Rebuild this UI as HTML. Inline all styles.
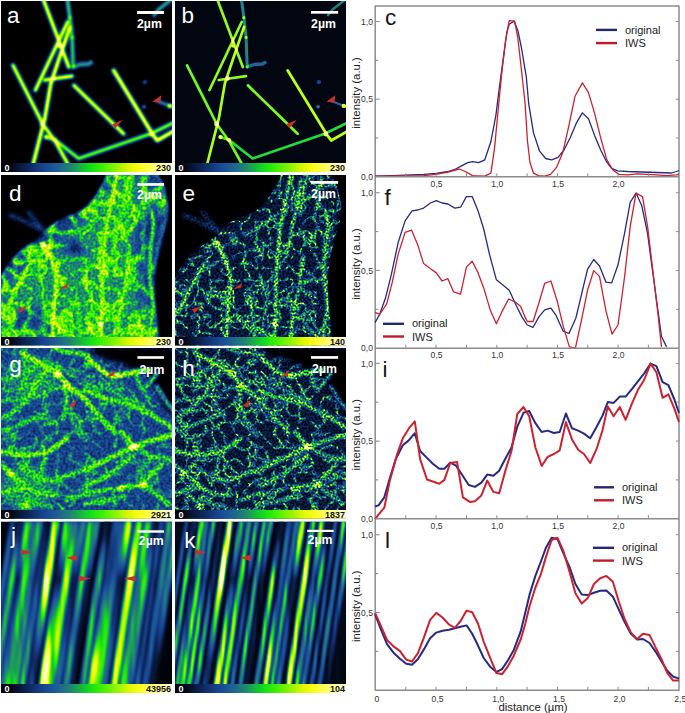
<!DOCTYPE html>
<html><head><meta charset="utf-8"><style>
html,body{margin:0;padding:0;background:#fff;}
svg{display:block;}
text{font-family:"Liberation Sans",sans-serif;}
.tk{font-size:8.6px;fill:#333;}
.at{font-size:11.4px;fill:#222;}
.lg{font-size:11px;fill:#222;}
.cl{font-size:22.5px;fill:#151515;}
.pl{font-size:22.5px;fill:#fff;}
.sb{font-size:12.3px;fill:#fff;font-weight:bold;}
.cb{font-size:9px;font-weight:bold;}
</style></head><body>
<svg width="685" height="713" viewBox="0 0 685 713">
<rect width="685" height="713" fill="#fff"/>
<defs>
<filter id="cmap" x="0" y="0" width="1" height="1" color-interpolation-filters="sRGB">
<feComponentTransfer><feFuncR type="table" tableValues="0.000 0.005 0.014 0.028 0.041 0.053 0.066 0.078 0.090 0.101 0.112 0.119 0.123 0.123 0.108 0.092 0.072 0.089 0.173 0.258 0.373 0.495 0.620 0.751 0.882 0.935 0.987 1.000 1.000 1.000 1.000 1.000 1.000"/><feFuncG type="table" tableValues="0.000 0.015 0.039 0.078 0.114 0.150 0.186 0.228 0.269 0.310 0.350 0.398 0.456 0.521 0.617 0.715 0.817 0.892 0.918 0.944 0.953 0.957 0.962 0.967 0.973 0.985 0.997 1.000 1.000 1.000 1.000 1.000 1.000"/><feFuncB type="table" tableValues="0.000 0.044 0.104 0.187 0.269 0.350 0.428 0.497 0.566 0.588 0.588 0.565 0.513 0.450 0.348 0.249 0.157 0.084 0.046 0.008 0.000 0.000 0.000 0.000 0.000 0.053 0.105 0.222 0.360 0.496 0.625 0.754 0.882"/></feComponentTransfer>
</filter>
<filter id="bl07" x="-5%" y="-5%" width="110%" height="110%" color-interpolation-filters="sRGB"><feGaussianBlur stdDeviation="0.95"/></filter>
<filter id="bl06" x="-5%" y="-5%" width="110%" height="110%" color-interpolation-filters="sRGB"><feGaussianBlur stdDeviation="0.6"/></filter>
<filter id="bl15" x="-5%" y="-5%" width="110%" height="110%" color-interpolation-filters="sRGB"><feGaussianBlur stdDeviation="1.6"/></filter>
<linearGradient id="cbg" x1="0" x2="1" y1="0" y2="0"><stop offset="0" stop-color="#000"/><stop offset="1" stop-color="#fff"/></linearGradient>
</defs>
<clipPath id="clipa"><rect x="1" y="1" width="171" height="171"/></clipPath>
<g clip-path="url(#clipa)"><g filter="url(#cmap)">
<rect x="1" y="1" width="171" height="171" fill="rgb(0,0,0)"/>
<g filter="url(#bl15)">
<polyline points="43.5,0.0 68.8,67.0" fill="none" stroke="rgb(64,64,64)" stroke-width="5.9" stroke-linecap="round" stroke-linejoin="round" style="mix-blend-mode:lighten"/>
<polyline points="67.7,22.0 35.5,90.0" fill="none" stroke="rgb(64,64,64)" stroke-width="5.9" stroke-linecap="round" stroke-linejoin="round" style="mix-blend-mode:lighten"/>
<polyline points="70.0,27.0 58.7,60.0 50.9,83.2 44.8,118.7 33.2,164.0" fill="none" stroke="rgb(67,67,67)" stroke-width="5.9" stroke-linecap="round" stroke-linejoin="round" style="mix-blend-mode:lighten"/>
<polyline points="67.5,0.0 69.9,17.7 72.1,37.4 73.2,67.0" fill="none" stroke="rgb(38,38,38)" stroke-width="6.1" stroke-linecap="round" stroke-linejoin="round" style="mix-blend-mode:lighten"/>
<polyline points="73.2,67.0 80.0,64.5 88.3,64.0 91.0,62.5" fill="none" stroke="rgb(32,32,32)" stroke-width="6.5" stroke-linecap="round" stroke-linejoin="round" style="mix-blend-mode:lighten"/>
<polyline points="44.7,80.0 72.0,76.2" fill="none" stroke="rgb(64,64,64)" stroke-width="5.9" stroke-linecap="round" stroke-linejoin="round" style="mix-blend-mode:lighten"/>
<polyline points="13.0,65.4 43.2,124.8 55.6,141.8 67.9,164.0" fill="none" stroke="rgb(61,61,61)" stroke-width="5.9" stroke-linecap="round" stroke-linejoin="round" style="mix-blend-mode:lighten"/>
<polyline points="46.0,137.0 55.6,140.3 78.7,158.5 150.7,133.8 173.0,123.0" fill="none" stroke="rgb(50,50,50)" stroke-width="5.9" stroke-linecap="round" stroke-linejoin="round" style="mix-blend-mode:lighten"/>
<polyline points="74.0,85.4 123.6,133.8" fill="none" stroke="rgb(63,63,63)" stroke-width="5.9" stroke-linecap="round" stroke-linejoin="round" style="mix-blend-mode:lighten"/>
<polyline points="113.7,70.6 152.3,133.8 157.2,140.4 173.0,131.5" fill="none" stroke="rgb(69,69,69)" stroke-width="6.0" stroke-linecap="round" stroke-linejoin="round" style="mix-blend-mode:lighten"/>
<polyline points="154.0,15.2 158.0,10.0 172.0,-1.0" fill="none" stroke="rgb(38,38,38)" stroke-width="5.5" stroke-linecap="round" stroke-linejoin="round" style="mix-blend-mode:lighten"/>
<polyline points="157.2,101.0 172.0,106.7" fill="none" stroke="rgb(32,32,32)" stroke-width="5.5" stroke-linecap="round" stroke-linejoin="round" style="mix-blend-mode:lighten"/>
</g>
<g filter="url(#bl07)" style="mix-blend-mode:lighten">
<polyline points="43.5,0.0 68.8,67.0" fill="none" stroke="rgb(246,246,246)" stroke-width="2.76" stroke-linecap="round" stroke-linejoin="round" style="mix-blend-mode:screen"/>
<polyline points="67.7,22.0 35.5,90.0" fill="none" stroke="rgb(246,246,246)" stroke-width="2.76" stroke-linecap="round" stroke-linejoin="round" style="mix-blend-mode:screen"/>
<polyline points="70.0,27.0 58.7,60.0 50.9,83.2 44.8,118.7 33.2,164.0" fill="none" stroke="rgb(255,255,255)" stroke-width="2.76" stroke-linecap="round" stroke-linejoin="round" style="mix-blend-mode:screen"/>
<polyline points="67.5,0.0 69.9,17.7 72.1,37.4 73.2,67.0" fill="none" stroke="rgb(147,147,147)" stroke-width="2.9899999999999998" stroke-linecap="round" stroke-linejoin="round" style="mix-blend-mode:screen"/>
<polyline points="73.2,67.0 80.0,64.5 88.3,64.0 91.0,62.5" fill="none" stroke="rgb(123,123,123)" stroke-width="3.4499999999999997" stroke-linecap="round" stroke-linejoin="round" style="mix-blend-mode:screen"/>
<polyline points="44.7,80.0 72.0,76.2" fill="none" stroke="rgb(246,246,246)" stroke-width="2.76" stroke-linecap="round" stroke-linejoin="round" style="mix-blend-mode:screen"/>
<polyline points="13.0,65.4 43.2,124.8 55.6,141.8 67.9,164.0" fill="none" stroke="rgb(235,235,235)" stroke-width="2.76" stroke-linecap="round" stroke-linejoin="round" style="mix-blend-mode:screen"/>
<polyline points="46.0,137.0 55.6,140.3 78.7,158.5 150.7,133.8 173.0,123.0" fill="none" stroke="rgb(194,194,194)" stroke-width="2.76" stroke-linecap="round" stroke-linejoin="round" style="mix-blend-mode:screen"/>
<polyline points="74.0,85.4 123.6,133.8" fill="none" stroke="rgb(240,240,240)" stroke-width="2.76" stroke-linecap="round" stroke-linejoin="round" style="mix-blend-mode:screen"/>
<polyline points="113.7,70.6 152.3,133.8 157.2,140.4 173.0,131.5" fill="none" stroke="rgb(255,255,255)" stroke-width="2.875" stroke-linecap="round" stroke-linejoin="round" style="mix-blend-mode:screen"/>
<polyline points="154.0,15.2 158.0,10.0 172.0,-1.0" fill="none" stroke="rgb(147,147,147)" stroke-width="2.3" stroke-linecap="round" stroke-linejoin="round" style="mix-blend-mode:screen"/>
<polyline points="157.2,101.0 172.0,106.7" fill="none" stroke="rgb(123,123,123)" stroke-width="2.3" stroke-linecap="round" stroke-linejoin="round" style="mix-blend-mode:screen"/>
<circle cx="69.9" cy="17.7" r="1.6" fill="rgb(153,153,153)" style="mix-blend-mode:screen"/>
<circle cx="72.1" cy="37.4" r="1.6" fill="rgb(153,153,153)" style="mix-blend-mode:screen"/>
<circle cx="144.9" cy="82.1" r="2.2" fill="rgb(76,76,76)" style="mix-blend-mode:screen"/>
<circle cx="144.1" cy="106.7" r="1.8" fill="rgb(115,115,115)" style="mix-blend-mode:screen"/>
<circle cx="169.8" cy="105.9" r="2.2" fill="rgb(242,242,242)" style="mix-blend-mode:screen"/>
<circle cx="46.5" cy="137" r="2.2" fill="rgb(217,217,217)" style="mix-blend-mode:screen"/>
<circle cx="55" cy="140" r="2.0" fill="rgb(217,217,217)" style="mix-blend-mode:screen"/>
<circle cx="59" cy="46" r="1.8" fill="rgb(230,230,230)" style="mix-blend-mode:screen"/>
<circle cx="53.5" cy="78.5" r="2.2" fill="rgb(242,242,242)" style="mix-blend-mode:screen"/>
<circle cx="42.5" cy="124" r="2.4" fill="rgb(242,242,242)" style="mix-blend-mode:screen"/>
<circle cx="151.8" cy="134" r="2.4" fill="rgb(242,242,242)" style="mix-blend-mode:screen"/>
</g>
<rect x="1" y="163" width="171" height="10.00" fill="url(#cbg)"/>
</g>
<polygon points="112.1,124.2 122.8,119.8 115.4,128.2" fill="#c8302a"/>
<polygon points="152.3,101.8 161.3,95.2 160.5,102.8" fill="#c8302a"/>
<text x="7.0" y="22.8" class="pl">a</text>
<rect x="137.1" y="11" width="26.8" height="3.0" fill="#fff"/>
<text x="137.0" y="27.7" class="sb">2µm</text>
<text x="4.6" y="171.1" class="cb" fill="#fff">0</text>
<text x="171" y="171.2" class="cb" fill="#111" text-anchor="end">230</text>
</g>
<clipPath id="clipb"><rect x="175" y="1" width="171" height="171"/></clipPath>
<g clip-path="url(#clipb)"><g filter="url(#cmap)">
<rect x="175" y="1" width="171" height="171" fill="rgb(11,11,11)"/>
<g filter="url(#bl06)" style="mix-blend-mode:lighten">
<polyline points="217.5,0.0 242.8,67.0" fill="none" stroke="rgb(178,178,178)" stroke-width="2.76" stroke-linecap="round" stroke-linejoin="round" style="mix-blend-mode:screen"/>
<polyline points="241.7,22.0 209.5,90.0" fill="none" stroke="rgb(178,178,178)" stroke-width="2.76" stroke-linecap="round" stroke-linejoin="round" style="mix-blend-mode:screen"/>
<polyline points="244.0,27.0 232.7,60.0 224.9,83.2 218.8,118.7 207.2,164.0" fill="none" stroke="rgb(186,186,186)" stroke-width="2.76" stroke-linecap="round" stroke-linejoin="round" style="mix-blend-mode:screen"/>
<polyline points="241.5,0.0 243.9,17.7 246.1,37.4 247.2,67.0" fill="none" stroke="rgb(106,106,106)" stroke-width="2.9899999999999998" stroke-linecap="round" stroke-linejoin="round" style="mix-blend-mode:screen"/>
<polyline points="247.2,67.0 254.0,64.5 262.3,64.0 265.0,62.5" fill="none" stroke="rgb(89,89,89)" stroke-width="3.4499999999999997" stroke-linecap="round" stroke-linejoin="round" style="mix-blend-mode:screen"/>
<polyline points="218.7,80.0 246.0,76.2" fill="none" stroke="rgb(178,178,178)" stroke-width="2.76" stroke-linecap="round" stroke-linejoin="round" style="mix-blend-mode:screen"/>
<polyline points="187.0,65.4 217.2,124.8 229.6,141.8 241.9,164.0" fill="none" stroke="rgb(169,169,169)" stroke-width="2.76" stroke-linecap="round" stroke-linejoin="round" style="mix-blend-mode:screen"/>
<polyline points="220.0,137.0 229.6,140.3 252.7,158.5 324.7,133.8 347.0,123.0" fill="none" stroke="rgb(140,140,140)" stroke-width="2.76" stroke-linecap="round" stroke-linejoin="round" style="mix-blend-mode:screen"/>
<polyline points="248.0,85.4 297.6,133.8" fill="none" stroke="rgb(174,174,174)" stroke-width="2.76" stroke-linecap="round" stroke-linejoin="round" style="mix-blend-mode:screen"/>
<polyline points="287.7,70.6 326.3,133.8 331.2,140.4 347.0,131.5" fill="none" stroke="rgb(190,190,190)" stroke-width="2.875" stroke-linecap="round" stroke-linejoin="round" style="mix-blend-mode:screen"/>
<polyline points="328.0,15.2 332.0,10.0 346.0,-1.0" fill="none" stroke="rgb(106,106,106)" stroke-width="2.3" stroke-linecap="round" stroke-linejoin="round" style="mix-blend-mode:screen"/>
<polyline points="331.2,101.0 346.0,106.7" fill="none" stroke="rgb(89,89,89)" stroke-width="2.3" stroke-linecap="round" stroke-linejoin="round" style="mix-blend-mode:screen"/>
<circle cx="243.9" cy="17.7" r="1.6" fill="rgb(130,130,130)" style="mix-blend-mode:screen"/>
<circle cx="246.1" cy="37.4" r="1.6" fill="rgb(130,130,130)" style="mix-blend-mode:screen"/>
<circle cx="318.9" cy="82.1" r="2.2" fill="rgb(65,65,65)" style="mix-blend-mode:screen"/>
<circle cx="318.1" cy="106.7" r="1.8" fill="rgb(98,98,98)" style="mix-blend-mode:screen"/>
<circle cx="343.8" cy="105.9" r="2.2" fill="rgb(206,206,206)" style="mix-blend-mode:screen"/>
<circle cx="220.5" cy="137" r="2.2" fill="rgb(184,184,184)" style="mix-blend-mode:screen"/>
<circle cx="229" cy="140" r="2.0" fill="rgb(184,184,184)" style="mix-blend-mode:screen"/>
<circle cx="233" cy="46" r="1.8" fill="rgb(195,195,195)" style="mix-blend-mode:screen"/>
<circle cx="227.5" cy="78.5" r="2.2" fill="rgb(206,206,206)" style="mix-blend-mode:screen"/>
<circle cx="216.5" cy="124" r="2.4" fill="rgb(206,206,206)" style="mix-blend-mode:screen"/>
<circle cx="325.8" cy="134" r="2.4" fill="rgb(206,206,206)" style="mix-blend-mode:screen"/>
</g>
<rect x="175" y="163" width="171" height="10.00" fill="url(#cbg)"/>
</g>
<polygon points="286.1,124.2 296.8,119.8 289.4,128.2" fill="#c8302a"/>
<polygon points="326.3,101.8 335.3,95.2 334.5,102.8" fill="#c8302a"/>
<text x="181.4" y="22.8" class="pl">b</text>
<rect x="311" y="11" width="27.1" height="2.7" fill="#fff"/>
<text x="311.1" y="27.8" class="sb">2µm</text>
<text x="178.6" y="171.1" class="cb" fill="#fff">0</text>
<text x="345" y="171.2" class="cb" fill="#111" text-anchor="end">230</text>
</g>
<clipPath id="clipd"><rect x="0" y="0" width="171" height="170.5"/></clipPath>
<filter id="texd" x="0" y="0" width="1" height="1" color-interpolation-filters="sRGB">
<feTurbulence type="fractalNoise" baseFrequency="0.4" numOctaves="1" seed="4" result="t"/>
<feColorMatrix in="t" type="matrix" values="1 0 0 0 0 1 0 0 0 0 1 0 0 0 0 0 0 0 0 1" result="g"/>
<feComponentTransfer in="g" result="n"><feFuncR type="linear" slope="2.4" intercept="-0.7"/><feFuncG type="linear" slope="2.4" intercept="-0.7"/><feFuncB type="linear" slope="2.4" intercept="-0.7"/></feComponentTransfer>
<feComposite in="SourceGraphic" in2="n" operator="arithmetic" k1="0.45" k2="0.78" k3="0" k4="0" result="m"/>
<feComponentTransfer in="m"><feFuncR type="table" tableValues="0.000 0.005 0.014 0.028 0.041 0.053 0.066 0.078 0.090 0.101 0.112 0.119 0.123 0.123 0.108 0.092 0.072 0.089 0.173 0.258 0.373 0.495 0.620 0.751 0.882 0.935 0.987 1.000 1.000 1.000 1.000 1.000 1.000"/><feFuncG type="table" tableValues="0.000 0.015 0.039 0.078 0.114 0.150 0.186 0.228 0.269 0.310 0.350 0.398 0.456 0.521 0.617 0.715 0.817 0.892 0.918 0.944 0.953 0.957 0.962 0.967 0.973 0.985 0.997 1.000 1.000 1.000 1.000 1.000 1.000"/><feFuncB type="table" tableValues="0.000 0.044 0.104 0.187 0.269 0.350 0.428 0.497 0.566 0.588 0.588 0.565 0.513 0.450 0.348 0.249 0.157 0.084 0.046 0.008 0.000 0.000 0.000 0.000 0.000 0.053 0.105 0.222 0.360 0.496 0.625 0.754 0.882"/></feComponentTransfer>
</filter>
<filter id="db4" x="-20%" y="-20%" width="140%" height="140%" color-interpolation-filters="sRGB"><feGaussianBlur stdDeviation="4.0"/></filter>
<filter id="db2" x="-20%" y="-20%" width="140%" height="140%" color-interpolation-filters="sRGB"><feGaussianBlur stdDeviation="2.0"/></filter>
<filter id="db1" x="-20%" y="-20%" width="140%" height="140%" color-interpolation-filters="sRGB"><feGaussianBlur stdDeviation="1.2"/></filter>
<filter id="dbn" x="-20%" y="-20%" width="140%" height="140%" color-interpolation-filters="sRGB"><feGaussianBlur stdDeviation="0.8"/></filter>
<g transform="translate(1,175)"><g clip-path="url(#clipd)">
<g filter="url(#texd)">
<rect x="0" y="0" width="171" height="170.5" fill="rgb(0,0,0)"/>
<g filter="url(#db2)">
<polygon points="106.0,-2.0 155.0,-2.0 162.7,12.7 166.5,31.8 165.3,44.5 161.5,57.2 156.4,76.2 154.0,90.0 152.5,110.0 153.0,125.0 154.5,140.0 156.5,155.0 158.0,172.0 -2.0,172.0 -2.0,103.0 0.8,99.9 7.8,89.3 16.5,78.8 25.3,71.8 34.0,66.6 42.8,59.6 48.1,52.6 55.1,47.3 65.6,42.0 76.1,38.5 86.6,31.5 93.6,22.8 98.9,14.0 104.1,5.3" fill="rgb(61,61,61)"/>
<polyline points="8.0,40.0 20.0,44.5 31.0,50.5 48.0,58.0" fill="none" stroke="rgb(76,76,76)" stroke-width="3" stroke-linecap="round" stroke-linejoin="round"/>
<polyline points="27.0,36.5 34.0,45.5 40.0,52.5" fill="none" stroke="rgb(76,76,76)" stroke-width="3" stroke-linecap="round" stroke-linejoin="round"/>
</g>
<g filter="url(#dbn)" style="mix-blend-mode:lighten">
<clipPath id="ncpda"><polygon points="106.0,-2.0 155.0,-2.0 162.7,12.7 166.5,31.8 165.3,44.5 161.5,57.2 156.4,76.2 154.0,90.0 152.5,110.0 153.0,125.0 154.5,140.0 156.5,155.0 158.0,172.0 -2.0,172.0 -2.0,103.0 0.8,99.9 7.8,89.3 16.5,78.8 25.3,71.8 34.0,66.6 42.8,59.6 48.1,52.6 55.1,47.3 65.6,42.0 76.1,38.5 86.6,31.5 93.6,22.8 98.9,14.0 104.1,5.3"/></clipPath>
<filter id="netda" x="0" y="0" width="1" height="1" color-interpolation-filters="sRGB"><feTurbulence type="turbulence" baseFrequency="0.07" numOctaves="2" seed="4"/><feColorMatrix type="matrix" values="1 0 0 0 0 1 0 0 0 0 1 0 0 0 0 0 0 0 0 1"/><feComponentTransfer><feFuncR type="linear" slope="-1.4" intercept="0.8"/><feFuncG type="linear" slope="-1.4" intercept="0.8"/><feFuncB type="linear" slope="-1.4" intercept="0.8"/></feComponentTransfer></filter>
<g clip-path="url(#ncpda)"><rect x="0" y="0" width="171" height="170.5" filter="url(#netda)" style="mix-blend-mode:lighten"/></g>
</g>
<g filter="url(#db4)" style="mix-blend-mode:lighten">
<polygon points="112.0,2.0 140.0,2.0 135.0,40.0 130.0,80.0 140.0,120.0 150.0,140.0 153.0,172.0 62.0,172.0 58.0,150.0 45.0,138.0 25.0,128.0 5.0,134.0 2.0,122.0 5.0,110.0 22.0,96.0 40.0,82.0 62.0,66.0 80.0,50.0 100.0,30.0" fill="rgb(105,105,105)"/>
</g>
<g filter="url(#db4)">
<ellipse cx="73" cy="74" rx="10" ry="9" fill="rgb(31,31,31)"/>
<ellipse cx="36" cy="147" rx="8" ry="8" fill="rgb(38,38,38)"/>
<ellipse cx="141" cy="125" rx="4" ry="12" fill="rgb(46,46,46)"/>
<ellipse cx="140" cy="92" rx="4" ry="7" fill="rgb(51,51,51)"/>
<ellipse cx="152" cy="55" rx="8" ry="30" fill="rgb(41,41,41)"/>
<ellipse cx="145" cy="95" rx="5" ry="10" fill="rgb(46,46,46)"/>
</g>
<g filter="url(#db1)" style="mix-blend-mode:lighten">
<polyline points="41.0,69.0 50.0,82.0 55.5,102.0 54.5,121.0 53.0,135.0 52.0,150.0 51.0,172.0" fill="none" stroke="rgb(199,199,199)" stroke-width="3.5" stroke-linecap="round" stroke-linejoin="round" style="mix-blend-mode:lighten"/>
<polyline points="116.0,-2.0 111.0,25.0 104.5,57.0 102.0,87.0 101.2,104.0 101.0,130.0 100.0,150.0 99.0,172.0" fill="none" stroke="rgb(184,184,184)" stroke-width="3.5" stroke-linecap="round" stroke-linejoin="round" style="mix-blend-mode:lighten"/>
<polyline points="-1.0,138.0 6.7,132.0 11.8,121.5 17.0,111.0 24.7,96.0 29.8,88.0" fill="none" stroke="rgb(178,178,178)" stroke-width="3.5" stroke-linecap="round" stroke-linejoin="round" style="mix-blend-mode:lighten"/>
<polyline points="126.0,4.0 122.0,32.0 116.0,57.0 112.0,80.0" fill="none" stroke="rgb(158,158,158)" stroke-width="3" stroke-linecap="round" stroke-linejoin="round" style="mix-blend-mode:lighten"/>
<polyline points="127.0,83.0 124.6,112.0 120.8,125.0 118.3,140.0 115.7,159.0 114.0,172.0" fill="none" stroke="rgb(168,168,168)" stroke-width="3.5" stroke-linecap="round" stroke-linejoin="round" style="mix-blend-mode:lighten"/>
<polyline points="151.0,36.0 152.6,51.0 150.0,70.0 149.0,87.0 148.8,102.0 151.3,121.0 152.6,134.0 150.0,146.5 148.8,159.0 148.0,172.0" fill="none" stroke="rgb(158,158,158)" stroke-width="3.5" stroke-linecap="round" stroke-linejoin="round" style="mix-blend-mode:lighten"/>
<polyline points="132.0,-2.0 128.0,20.0 125.0,40.0" fill="none" stroke="rgb(153,153,153)" stroke-width="3" stroke-linecap="round" stroke-linejoin="round" style="mix-blend-mode:lighten"/>
<polyline points="146.0,-2.0 143.0,20.0 142.0,35.0" fill="none" stroke="rgb(128,128,128)" stroke-width="3" stroke-linecap="round" stroke-linejoin="round" style="mix-blend-mode:lighten"/>
<polyline points="75.0,120.0 78.0,140.0 80.0,172.0" fill="none" stroke="rgb(148,148,148)" stroke-width="3.5" stroke-linecap="round" stroke-linejoin="round" style="mix-blend-mode:lighten"/>
<polyline points="70.0,60.0 85.0,52.0 95.0,45.0" fill="none" stroke="rgb(140,140,140)" stroke-width="3" stroke-linecap="round" stroke-linejoin="round" style="mix-blend-mode:lighten"/>
<polyline points="20.0,100.0 35.0,92.0 45.0,85.0" fill="none" stroke="rgb(133,133,133)" stroke-width="3" stroke-linecap="round" stroke-linejoin="round" style="mix-blend-mode:lighten"/>
<polyline points="60.0,140.0 70.0,150.0 90.0,160.0 110.0,165.0" fill="none" stroke="rgb(148,148,148)" stroke-width="3.5" stroke-linecap="round" stroke-linejoin="round" style="mix-blend-mode:lighten"/>
<polyline points="85.0,100.0 92.0,120.0 90.0,140.0" fill="none" stroke="rgb(140,140,140)" stroke-width="3" stroke-linecap="round" stroke-linejoin="round" style="mix-blend-mode:lighten"/>
<polyline points="130.0,150.0 140.0,160.0 150.0,165.0" fill="none" stroke="rgb(153,153,153)" stroke-width="3" stroke-linecap="round" stroke-linejoin="round" style="mix-blend-mode:lighten"/>
<ellipse cx="42" cy="69.5" rx="3" ry="3" fill="rgb(242,242,242)" style="mix-blend-mode:lighten"/>
<ellipse cx="99.9" cy="149" rx="2.5" ry="3" fill="rgb(242,242,242)" style="mix-blend-mode:lighten"/>
<polyline points="155.0,-2.0 162.7,12.7 166.0,31.8 165.0,44.5 161.5,57.2 156.4,76.2 154.0,90.0" fill="none" stroke="rgb(102,102,102)" stroke-width="1.8" stroke-linecap="round" stroke-linejoin="round" style="mix-blend-mode:lighten"/>
</g>
</g>
<g filter="url(#cmap)"><rect x="0" y="162.00" width="171" height="9.50" fill="url(#cbg)"/></g>
<polygon points="57.9,114.4 66.9,108.0 66.3,112.5" fill="#c8302a"/>
<polygon points="16.9,134.2 26.5,131.1 19.5,138.2" fill="#c8302a"/>
</g></g>
<text x="9.1" y="201.3" class="pl">d</text>
<rect x="137.4" y="183.1" width="26.7" height="2.7" fill="#fff"/>
<text x="137.1" y="199.4" class="sb">2µm</text>
<text x="4.6" y="344.6" class="cb" fill="#fff">0</text>
<text x="171" y="344.7" class="cb" fill="#111" text-anchor="end">230</text>
<clipPath id="clipe"><rect x="0" y="0" width="171" height="170.5"/></clipPath>
<filter id="texe" x="0" y="0" width="1" height="1" color-interpolation-filters="sRGB">
<feTurbulence type="fractalNoise" baseFrequency="0.5" numOctaves="1" seed="9" result="t"/>
<feColorMatrix in="t" type="matrix" values="1 0 0 0 0 1 0 0 0 0 1 0 0 0 0 0 0 0 0 1" result="g"/>
<feComponentTransfer in="g" result="n"><feFuncR type="linear" slope="3.0" intercept="-1.0"/><feFuncG type="linear" slope="3.0" intercept="-1.0"/><feFuncB type="linear" slope="3.0" intercept="-1.0"/></feComponentTransfer>
<feComposite in="SourceGraphic" in2="n" operator="arithmetic" k1="1.3" k2="0.35" k3="0" k4="0" result="m"/>
<feComponentTransfer in="m"><feFuncR type="table" tableValues="0.000 0.005 0.014 0.028 0.041 0.053 0.066 0.078 0.090 0.101 0.112 0.119 0.123 0.123 0.108 0.092 0.072 0.089 0.173 0.258 0.373 0.495 0.620 0.751 0.882 0.935 0.987 1.000 1.000 1.000 1.000 1.000 1.000"/><feFuncG type="table" tableValues="0.000 0.015 0.039 0.078 0.114 0.150 0.186 0.228 0.269 0.310 0.350 0.398 0.456 0.521 0.617 0.715 0.817 0.892 0.918 0.944 0.953 0.957 0.962 0.967 0.973 0.985 0.997 1.000 1.000 1.000 1.000 1.000 1.000"/><feFuncB type="table" tableValues="0.000 0.044 0.104 0.187 0.269 0.350 0.428 0.497 0.566 0.588 0.588 0.565 0.513 0.450 0.348 0.249 0.157 0.084 0.046 0.008 0.000 0.000 0.000 0.000 0.000 0.053 0.105 0.222 0.360 0.496 0.625 0.754 0.882"/></feComponentTransfer>
</filter>
<filter id="eb4" x="-20%" y="-20%" width="140%" height="140%" color-interpolation-filters="sRGB"><feGaussianBlur stdDeviation="4.0"/></filter>
<filter id="eb2" x="-20%" y="-20%" width="140%" height="140%" color-interpolation-filters="sRGB"><feGaussianBlur stdDeviation="2.0"/></filter>
<filter id="eb1" x="-20%" y="-20%" width="140%" height="140%" color-interpolation-filters="sRGB"><feGaussianBlur stdDeviation="0.8"/></filter>
<filter id="ebn" x="-20%" y="-20%" width="140%" height="140%" color-interpolation-filters="sRGB"><feGaussianBlur stdDeviation="0.6"/></filter>
<g transform="translate(175,175)"><g clip-path="url(#clipe)">
<g filter="url(#texe)">
<rect x="0" y="0" width="171" height="170.5" fill="rgb(0,0,0)"/>
<g filter="url(#eb2)">
<polygon points="106.0,-2.0 155.0,-2.0 162.7,12.7 166.5,31.8 165.3,44.5 161.5,57.2 156.4,76.2 154.0,90.0 152.5,110.0 153.0,125.0 154.5,140.0 156.5,155.0 158.0,172.0 -2.0,172.0 -2.0,103.0 0.8,99.9 7.8,89.3 16.5,78.8 25.3,71.8 34.0,66.6 42.8,59.6 48.1,52.6 55.1,47.3 65.6,42.0 76.1,38.5 86.6,31.5 93.6,22.8 98.9,14.0 104.1,5.3" fill="rgb(26,26,26)"/>
<polyline points="8.0,40.0 20.0,44.5 31.0,50.5 48.0,58.0" fill="none" stroke="rgb(76,76,76)" stroke-width="2.5" stroke-linecap="round" stroke-linejoin="round"/>
<polyline points="27.0,36.5 34.0,45.5 40.0,52.5" fill="none" stroke="rgb(76,76,76)" stroke-width="2.5" stroke-linecap="round" stroke-linejoin="round"/>
</g>
<g filter="url(#ebn)" style="mix-blend-mode:lighten">
<clipPath id="ncpea"><polygon points="106.0,-2.0 155.0,-2.0 162.7,12.7 166.5,31.8 165.3,44.5 161.5,57.2 156.4,76.2 154.0,90.0 152.5,110.0 153.0,125.0 154.5,140.0 156.5,155.0 158.0,172.0 -2.0,172.0 -2.0,103.0 0.8,99.9 7.8,89.3 16.5,78.8 25.3,71.8 34.0,66.6 42.8,59.6 48.1,52.6 55.1,47.3 65.6,42.0 76.1,38.5 86.6,31.5 93.6,22.8 98.9,14.0 104.1,5.3"/></clipPath>
<filter id="netea" x="0" y="0" width="1" height="1" color-interpolation-filters="sRGB"><feTurbulence type="turbulence" baseFrequency="0.085" numOctaves="2" seed="4"/><feColorMatrix type="matrix" values="1 0 0 0 0 1 0 0 0 0 1 0 0 0 0 0 0 0 0 1"/><feComponentTransfer><feFuncR type="linear" slope="-1.9" intercept="0.56"/><feFuncG type="linear" slope="-1.9" intercept="0.56"/><feFuncB type="linear" slope="-1.9" intercept="0.56"/></feComponentTransfer></filter>
<g clip-path="url(#ncpea)"><rect x="0" y="0" width="171" height="170.5" filter="url(#netea)" style="mix-blend-mode:lighten"/></g>
</g>
<g filter="url(#eb1)" style="mix-blend-mode:lighten">
<polyline points="41.0,69.0 50.0,82.0 55.5,102.0 54.5,121.0 53.0,135.0 52.0,150.0 51.0,172.0" fill="none" stroke="rgb(199,199,199)" stroke-width="2.4499999999999997" stroke-linecap="round" stroke-linejoin="round" style="mix-blend-mode:lighten"/>
<polyline points="116.0,-2.0 111.0,25.0 104.5,57.0 102.0,87.0 101.2,104.0 101.0,130.0 100.0,150.0 99.0,172.0" fill="none" stroke="rgb(184,184,184)" stroke-width="2.4499999999999997" stroke-linecap="round" stroke-linejoin="round" style="mix-blend-mode:lighten"/>
<polyline points="-1.0,138.0 6.7,132.0 11.8,121.5 17.0,111.0 24.7,96.0 29.8,88.0" fill="none" stroke="rgb(178,178,178)" stroke-width="2.4499999999999997" stroke-linecap="round" stroke-linejoin="round" style="mix-blend-mode:lighten"/>
<polyline points="126.0,4.0 122.0,32.0 116.0,57.0 112.0,80.0" fill="none" stroke="rgb(158,158,158)" stroke-width="2.0999999999999996" stroke-linecap="round" stroke-linejoin="round" style="mix-blend-mode:lighten"/>
<polyline points="127.0,83.0 124.6,112.0 120.8,125.0 118.3,140.0 115.7,159.0 114.0,172.0" fill="none" stroke="rgb(168,168,168)" stroke-width="2.4499999999999997" stroke-linecap="round" stroke-linejoin="round" style="mix-blend-mode:lighten"/>
<polyline points="151.0,36.0 152.6,51.0 150.0,70.0 149.0,87.0 148.8,102.0 151.3,121.0 152.6,134.0 150.0,146.5 148.8,159.0 148.0,172.0" fill="none" stroke="rgb(158,158,158)" stroke-width="2.4499999999999997" stroke-linecap="round" stroke-linejoin="round" style="mix-blend-mode:lighten"/>
<polyline points="132.0,-2.0 128.0,20.0 125.0,40.0" fill="none" stroke="rgb(153,153,153)" stroke-width="2.0999999999999996" stroke-linecap="round" stroke-linejoin="round" style="mix-blend-mode:lighten"/>
<polyline points="146.0,-2.0 143.0,20.0 142.0,35.0" fill="none" stroke="rgb(128,128,128)" stroke-width="2.0999999999999996" stroke-linecap="round" stroke-linejoin="round" style="mix-blend-mode:lighten"/>
<polyline points="75.0,120.0 78.0,140.0 80.0,172.0" fill="none" stroke="rgb(148,148,148)" stroke-width="2.4499999999999997" stroke-linecap="round" stroke-linejoin="round" style="mix-blend-mode:lighten"/>
<polyline points="70.0,60.0 85.0,52.0 95.0,45.0" fill="none" stroke="rgb(140,140,140)" stroke-width="2.0999999999999996" stroke-linecap="round" stroke-linejoin="round" style="mix-blend-mode:lighten"/>
<polyline points="20.0,100.0 35.0,92.0 45.0,85.0" fill="none" stroke="rgb(133,133,133)" stroke-width="2.0999999999999996" stroke-linecap="round" stroke-linejoin="round" style="mix-blend-mode:lighten"/>
<polyline points="60.0,140.0 70.0,150.0 90.0,160.0 110.0,165.0" fill="none" stroke="rgb(148,148,148)" stroke-width="2.4499999999999997" stroke-linecap="round" stroke-linejoin="round" style="mix-blend-mode:lighten"/>
<polyline points="85.0,100.0 92.0,120.0 90.0,140.0" fill="none" stroke="rgb(140,140,140)" stroke-width="2.0999999999999996" stroke-linecap="round" stroke-linejoin="round" style="mix-blend-mode:lighten"/>
<polyline points="130.0,150.0 140.0,160.0 150.0,165.0" fill="none" stroke="rgb(153,153,153)" stroke-width="2.0999999999999996" stroke-linecap="round" stroke-linejoin="round" style="mix-blend-mode:lighten"/>
<ellipse cx="42" cy="69.5" rx="3" ry="3" fill="rgb(242,242,242)" style="mix-blend-mode:lighten"/>
<ellipse cx="99.9" cy="149" rx="2.5" ry="3" fill="rgb(242,242,242)" style="mix-blend-mode:lighten"/>
</g>
</g>
<g filter="url(#cmap)"><rect x="0" y="162.00" width="171" height="9.50" fill="url(#cbg)"/></g>
<polygon points="57.9,114.4 66.9,108.0 66.3,112.5" fill="#c8302a"/>
<polygon points="16.9,134.2 26.5,131.1 19.5,138.2" fill="#c8302a"/>
</g></g>
<text x="182.4" y="201.3" class="pl">e</text>
<rect x="311" y="181" width="27.1" height="2.8" fill="#fff"/>
<text x="311.1" y="197.6" class="sb">2µm</text>
<text x="178.6" y="344.6" class="cb" fill="#fff">0</text>
<text x="345" y="344.7" class="cb" fill="#111" text-anchor="end">140</text>
<clipPath id="clipg"><rect x="0" y="0" width="171" height="170.7"/></clipPath>
<filter id="texg" x="0" y="0" width="1" height="1" color-interpolation-filters="sRGB">
<feTurbulence type="fractalNoise" baseFrequency="0.4" numOctaves="1" seed="12" result="t"/>
<feColorMatrix in="t" type="matrix" values="1 0 0 0 0 1 0 0 0 0 1 0 0 0 0 0 0 0 0 1" result="g"/>
<feComponentTransfer in="g" result="n"><feFuncR type="linear" slope="2.4" intercept="-0.7"/><feFuncG type="linear" slope="2.4" intercept="-0.7"/><feFuncB type="linear" slope="2.4" intercept="-0.7"/></feComponentTransfer>
<feComposite in="SourceGraphic" in2="n" operator="arithmetic" k1="0.6" k2="0.7" k3="0" k4="0" result="m"/>
<feComponentTransfer in="m"><feFuncR type="table" tableValues="0.000 0.005 0.014 0.028 0.041 0.053 0.066 0.078 0.090 0.101 0.112 0.119 0.123 0.123 0.108 0.092 0.072 0.089 0.173 0.258 0.373 0.495 0.620 0.751 0.882 0.935 0.987 1.000 1.000 1.000 1.000 1.000 1.000"/><feFuncG type="table" tableValues="0.000 0.015 0.039 0.078 0.114 0.150 0.186 0.228 0.269 0.310 0.350 0.398 0.456 0.521 0.617 0.715 0.817 0.892 0.918 0.944 0.953 0.957 0.962 0.967 0.973 0.985 0.997 1.000 1.000 1.000 1.000 1.000 1.000"/><feFuncB type="table" tableValues="0.000 0.044 0.104 0.187 0.269 0.350 0.428 0.497 0.566 0.588 0.588 0.565 0.513 0.450 0.348 0.249 0.157 0.084 0.046 0.008 0.000 0.000 0.000 0.000 0.000 0.053 0.105 0.222 0.360 0.496 0.625 0.754 0.882"/></feComponentTransfer>
</filter>
<filter id="gb4" x="-20%" y="-20%" width="140%" height="140%" color-interpolation-filters="sRGB"><feGaussianBlur stdDeviation="3.0"/></filter>
<filter id="gb1" x="-20%" y="-20%" width="140%" height="140%" color-interpolation-filters="sRGB"><feGaussianBlur stdDeviation="1.3"/></filter>
<filter id="gbn" x="-20%" y="-20%" width="140%" height="140%" color-interpolation-filters="sRGB"><feGaussianBlur stdDeviation="0.8"/></filter>
<g transform="translate(1,348)"><g clip-path="url(#clipg)">
<g filter="url(#texg)">
<rect x="0" y="0" width="171" height="170.7" fill="rgb(61,61,61)"/>
<g filter="url(#gbn)" style="mix-blend-mode:lighten">
<filter id="netga" x="0" y="0" width="1" height="1" color-interpolation-filters="sRGB"><feTurbulence type="turbulence" baseFrequency="0.07" numOctaves="2" seed="12"/><feColorMatrix type="matrix" values="1 0 0 0 0 1 0 0 0 0 1 0 0 0 0 0 0 0 0 1"/><feComponentTransfer><feFuncR type="linear" slope="-1.6" intercept="0.62"/><feFuncG type="linear" slope="-1.6" intercept="0.62"/><feFuncB type="linear" slope="-1.6" intercept="0.62"/></feComponentTransfer></filter>
<g><rect x="0" y="0" width="171" height="170.7" filter="url(#netga)" style="mix-blend-mode:lighten"/></g>
</g>
<g filter="url(#gb4)" style="mix-blend-mode:lighten">
<ellipse cx="25" cy="140" rx="25" ry="22" fill="rgb(107,107,107)"/>
<ellipse cx="30" cy="30" rx="28" ry="22" fill="rgb(102,102,102)"/>
</g>
<g filter="url(#gb4)">
<polygon points="83.0,-2.0 174.0,-2.0 174.0,70.0 164.0,60.0 156.0,42.0 146.0,28.0 128.0,19.0 110.0,13.0 100.0,9.0 90.0,4.0" fill="rgb(0,0,0)"/>
</g>
<g filter="url(#gb1)" style="mix-blend-mode:lighten">
<polyline points="20.8,5.1 35.0,12.8 47.8,20.6 56.8,25.7 65.8,36.0 76.1,45.0 87.0,54.0" fill="none" stroke="rgb(168,168,168)" stroke-width="5.3" stroke-linecap="round" stroke-linejoin="round" style="mix-blend-mode:lighten"/>
<polyline points="2.9,69.4 11.8,64.2 20.8,56.5 28.5,48.8 33.7,38.5 40.1,28.3 46.5,21.8" fill="none" stroke="rgb(149,149,149)" stroke-width="4.8" stroke-linecap="round" stroke-linejoin="round" style="mix-blend-mode:lighten"/>
<polyline points="53.0,0.0 63.2,3.9 76.1,5.1 87.0,7.7" fill="none" stroke="rgb(144,144,144)" stroke-width="4.8" stroke-linecap="round" stroke-linejoin="round" style="mix-blend-mode:lighten"/>
<polyline points="-1.0,32.1 11.8,29.5 24.7,25.7 35.0,19.3 41.4,15.4" fill="none" stroke="rgb(132,132,132)" stroke-width="4.3" stroke-linecap="round" stroke-linejoin="round" style="mix-blend-mode:lighten"/>
<polyline points="18.3,42.4 32.4,36.0 41.4,28.3" fill="none" stroke="rgb(132,132,132)" stroke-width="4.3" stroke-linecap="round" stroke-linejoin="round" style="mix-blend-mode:lighten"/>
<polyline points="22.1,7.7 24.7,16.7 26.0,25.7 22.1,38.5" fill="none" stroke="rgb(125,125,125)" stroke-width="4.3" stroke-linecap="round" stroke-linejoin="round" style="mix-blend-mode:lighten"/>
<polyline points="63.2,38.5 65.8,48.8 64.5,61.7 61.9,71.9" fill="none" stroke="rgb(144,144,144)" stroke-width="4.3" stroke-linecap="round" stroke-linejoin="round" style="mix-blend-mode:lighten"/>
<polyline points="-1.0,54.0 9.3,51.4 20.8,51.4 32.4,47.5 44.0,47.5" fill="none" stroke="rgb(132,132,132)" stroke-width="4.3" stroke-linecap="round" stroke-linejoin="round" style="mix-blend-mode:lighten"/>
<polyline points="47.8,42.4 56.8,38.5 69.7,42.4 82.5,48.8" fill="none" stroke="rgb(125,125,125)" stroke-width="4.3" stroke-linecap="round" stroke-linejoin="round" style="mix-blend-mode:lighten"/>
<polyline points="70.9,71.9 76.1,82.2 82.5,88.0" fill="none" stroke="rgb(120,120,120)" stroke-width="4.3" stroke-linecap="round" stroke-linejoin="round" style="mix-blend-mode:lighten"/>
<polyline points="-1.0,83.5 11.8,79.7 31.1,71.9 44.0,66.8" fill="none" stroke="rgb(132,132,132)" stroke-width="4.3" stroke-linecap="round" stroke-linejoin="round" style="mix-blend-mode:lighten"/>
<polyline points="86.6,10.3 96.8,19.3 107.1,27.0 116.1,28.3 126.4,25.7 138.0,23.1 148.2,21.8" fill="none" stroke="rgb(173,173,173)" stroke-width="5.3" stroke-linecap="round" stroke-linejoin="round" style="mix-blend-mode:lighten"/>
<polyline points="84.0,42.4 96.8,47.5 109.7,51.4 122.5,54.0 132.8,57.8 145.7,64.2 158.5,71.9 172.0,79.7" fill="none" stroke="rgb(149,149,149)" stroke-width="4.8" stroke-linecap="round" stroke-linejoin="round" style="mix-blend-mode:lighten"/>
<polyline points="84.0,51.4 91.7,60.4 99.4,69.4 107.1,77.1 113.5,84.8" fill="none" stroke="rgb(158,158,158)" stroke-width="4.8" stroke-linecap="round" stroke-linejoin="round" style="mix-blend-mode:lighten"/>
<polyline points="99.4,36.0 109.7,42.4 122.5,48.8 135.4,54.0" fill="none" stroke="rgb(125,125,125)" stroke-width="4.3" stroke-linecap="round" stroke-linejoin="round" style="mix-blend-mode:lighten"/>
<polyline points="135.4,25.7 138.0,36.0 141.8,42.4 150.8,32.1 155.9,25.7" fill="none" stroke="rgb(132,132,132)" stroke-width="4.3" stroke-linecap="round" stroke-linejoin="round" style="mix-blend-mode:lighten"/>
<polyline points="84.0,32.1 91.7,38.5 99.4,42.4" fill="none" stroke="rgb(120,120,120)" stroke-width="4.3" stroke-linecap="round" stroke-linejoin="round" style="mix-blend-mode:lighten"/>
<polyline points="155.9,38.5 163.7,51.4 172.0,61.7" fill="none" stroke="rgb(115,115,115)" stroke-width="4.3" stroke-linecap="round" stroke-linejoin="round" style="mix-blend-mode:lighten"/>
<polyline points="-1.0,103.3 11.8,105.8 24.7,107.1 37.5,105.8 47.8,103.3 56.8,96.8 65.8,90.4" fill="none" stroke="rgb(158,158,158)" stroke-width="5.3" stroke-linecap="round" stroke-linejoin="round" style="mix-blend-mode:lighten"/>
<polyline points="9.3,125.1 24.7,138.0 37.5,145.7 56.8,146.9" fill="none" stroke="rgb(149,149,149)" stroke-width="4.8" stroke-linecap="round" stroke-linejoin="round" style="mix-blend-mode:lighten"/>
<polyline points="-1.0,116.1 9.3,125.1 18.3,132.8" fill="none" stroke="rgb(149,149,149)" stroke-width="4.8" stroke-linecap="round" stroke-linejoin="round" style="mix-blend-mode:lighten"/>
<polyline points="18.3,116.1 31.1,126.4 44.0,131.5 56.8,132.8" fill="none" stroke="rgb(139,139,139)" stroke-width="4.8" stroke-linecap="round" stroke-linejoin="round" style="mix-blend-mode:lighten"/>
<polyline points="50.4,132.8 69.7,126.4 87.0,120.0" fill="none" stroke="rgb(139,139,139)" stroke-width="4.8" stroke-linecap="round" stroke-linejoin="round" style="mix-blend-mode:lighten"/>
<polyline points="-1.0,145.7 11.8,141.8 24.7,140.5" fill="none" stroke="rgb(144,144,144)" stroke-width="4.8" stroke-linecap="round" stroke-linejoin="round" style="mix-blend-mode:lighten"/>
<polyline points="24.7,150.8 37.5,155.9 50.4,158.5" fill="none" stroke="rgb(132,132,132)" stroke-width="4.8" stroke-linecap="round" stroke-linejoin="round" style="mix-blend-mode:lighten"/>
<polyline points="41.4,96.8 44.0,109.7 41.4,122.5 37.5,135.4" fill="none" stroke="rgb(132,132,132)" stroke-width="4.3" stroke-linecap="round" stroke-linejoin="round" style="mix-blend-mode:lighten"/>
<polyline points="65.8,152.1 76.1,148.2 87.0,144.4" fill="none" stroke="rgb(139,139,139)" stroke-width="4.8" stroke-linecap="round" stroke-linejoin="round" style="mix-blend-mode:lighten"/>
<polyline points="132.8,98.8 120.0,104.6 107.1,111.0 94.3,117.4 84.0,121.3" fill="none" stroke="rgb(158,158,158)" stroke-width="5.3" stroke-linecap="round" stroke-linejoin="round" style="mix-blend-mode:lighten"/>
<polyline points="132.8,98.8 145.7,94.3 158.5,90.4 172.0,86.6" fill="none" stroke="rgb(158,158,158)" stroke-width="5.3" stroke-linecap="round" stroke-linejoin="round" style="mix-blend-mode:lighten"/>
<polyline points="132.8,98.8 126.4,91.7 120.0,84.0" fill="none" stroke="rgb(158,158,158)" stroke-width="5.3" stroke-linecap="round" stroke-linejoin="round" style="mix-blend-mode:lighten"/>
<polyline points="138.0,102.0 150.8,108.4 161.1,109.7 172.0,112.3" fill="none" stroke="rgb(139,139,139)" stroke-width="4.8" stroke-linecap="round" stroke-linejoin="round" style="mix-blend-mode:lighten"/>
<polyline points="84.0,138.0 96.8,132.8 109.7,125.1 122.5,116.1 132.8,107.1" fill="none" stroke="rgb(144,144,144)" stroke-width="4.8" stroke-linecap="round" stroke-linejoin="round" style="mix-blend-mode:lighten"/>
<polyline points="116.1,140.5 129.0,138.0 141.8,136.7 154.7,122.5 161.1,116.1" fill="none" stroke="rgb(149,149,149)" stroke-width="4.8" stroke-linecap="round" stroke-linejoin="round" style="mix-blend-mode:lighten"/>
<polyline points="141.8,136.7 154.7,145.7 167.5,155.9" fill="none" stroke="rgb(139,139,139)" stroke-width="4.8" stroke-linecap="round" stroke-linejoin="round" style="mix-blend-mode:lighten"/>
<polyline points="84.0,146.9 96.8,144.4 109.7,140.5" fill="none" stroke="rgb(139,139,139)" stroke-width="4.8" stroke-linecap="round" stroke-linejoin="round" style="mix-blend-mode:lighten"/>
<polyline points="84.0,155.9 103.3,153.4 122.5,148.2" fill="none" stroke="rgb(132,132,132)" stroke-width="4.8" stroke-linecap="round" stroke-linejoin="round" style="mix-blend-mode:lighten"/>
<ellipse cx="56.810894141829394" cy="25.69373072970194" rx="4" ry="4" fill="rgb(217,217,217)" style="mix-blend-mode:lighten"/>
<ellipse cx="65.80369989722507" cy="37.255909558067856" rx="4" ry="3" fill="rgb(204,204,204)" style="mix-blend-mode:lighten"/>
<ellipse cx="132.81808838643371" cy="98.77389516957862" rx="4.5" ry="3.5" fill="rgb(247,247,247)" style="mix-blend-mode:lighten"/>
<ellipse cx="116.11716341212744" cy="27.62076053442962" rx="5" ry="3" fill="rgb(217,217,217)" style="mix-blend-mode:lighten"/>
<ellipse cx="9.277492291880781" cy="125.1099691675231" rx="3.5" ry="3.5" fill="rgb(204,204,204)" style="mix-blend-mode:lighten"/>
<ellipse cx="119.97122302158274" cy="140.52620760534433" rx="3.5" ry="3" fill="rgb(204,204,204)" style="mix-blend-mode:lighten"/>
<ellipse cx="141.8108941418294" cy="136.67214799588902" rx="3.5" ry="3.5" fill="rgb(217,217,217)" style="mix-blend-mode:lighten"/>
<ellipse cx="24.693730729701954" cy="158.51181911613565" rx="4" ry="3" fill="rgb(191,191,191)" style="mix-blend-mode:lighten"/>
</g>
</g>
<g filter="url(#cmap)"><rect x="0" y="162.00" width="171" height="9.70" fill="url(#cbg)"/></g>
<polygon points="67.5,58.0 75.6,51.7 73.1,59.3" fill="#c8302a"/>
<polygon points="105.0,29.2 114.0,22.3 112.7,27.4" fill="#c8302a"/>
</g></g>
<text x="9.2" y="372.4" class="pl">g</text>
<rect x="137.4" y="356.2" width="26.7" height="2.6" fill="#fff"/>
<text x="139.5" y="373.7" class="sb">2µm</text>
<text x="4.6" y="517.8000000000001" class="cb" fill="#fff">0</text>
<text x="171" y="517.9000000000001" class="cb" fill="#111" text-anchor="end">2921</text>
<clipPath id="cliph"><rect x="0" y="0" width="171" height="170.7"/></clipPath>
<filter id="texh" x="0" y="0" width="1" height="1" color-interpolation-filters="sRGB">
<feTurbulence type="fractalNoise" baseFrequency="0.5" numOctaves="1" seed="21" result="t"/>
<feColorMatrix in="t" type="matrix" values="1 0 0 0 0 1 0 0 0 0 1 0 0 0 0 0 0 0 0 1" result="g"/>
<feComponentTransfer in="g" result="n"><feFuncR type="linear" slope="3.0" intercept="-1.0"/><feFuncG type="linear" slope="3.0" intercept="-1.0"/><feFuncB type="linear" slope="3.0" intercept="-1.0"/></feComponentTransfer>
<feComposite in="SourceGraphic" in2="n" operator="arithmetic" k1="1.3" k2="0.35" k3="0" k4="0" result="m"/>
<feComponentTransfer in="m"><feFuncR type="table" tableValues="0.000 0.005 0.014 0.028 0.041 0.053 0.066 0.078 0.090 0.101 0.112 0.119 0.123 0.123 0.108 0.092 0.072 0.089 0.173 0.258 0.373 0.495 0.620 0.751 0.882 0.935 0.987 1.000 1.000 1.000 1.000 1.000 1.000"/><feFuncG type="table" tableValues="0.000 0.015 0.039 0.078 0.114 0.150 0.186 0.228 0.269 0.310 0.350 0.398 0.456 0.521 0.617 0.715 0.817 0.892 0.918 0.944 0.953 0.957 0.962 0.967 0.973 0.985 0.997 1.000 1.000 1.000 1.000 1.000 1.000"/><feFuncB type="table" tableValues="0.000 0.044 0.104 0.187 0.269 0.350 0.428 0.497 0.566 0.588 0.588 0.565 0.513 0.450 0.348 0.249 0.157 0.084 0.046 0.008 0.000 0.000 0.000 0.000 0.000 0.053 0.105 0.222 0.360 0.496 0.625 0.754 0.882"/></feComponentTransfer>
</filter>
<filter id="hb4" x="-20%" y="-20%" width="140%" height="140%" color-interpolation-filters="sRGB"><feGaussianBlur stdDeviation="3.0"/></filter>
<filter id="hb1" x="-20%" y="-20%" width="140%" height="140%" color-interpolation-filters="sRGB"><feGaussianBlur stdDeviation="0.8"/></filter>
<filter id="hbn" x="-20%" y="-20%" width="140%" height="140%" color-interpolation-filters="sRGB"><feGaussianBlur stdDeviation="0.6"/></filter>
<g transform="translate(175,348)"><g clip-path="url(#cliph)">
<g filter="url(#texh)">
<rect x="0" y="0" width="171" height="170.7" fill="rgb(26,26,26)"/>
<g filter="url(#hbn)" style="mix-blend-mode:lighten">
<filter id="netha" x="0" y="0" width="1" height="1" color-interpolation-filters="sRGB"><feTurbulence type="turbulence" baseFrequency="0.08" numOctaves="2" seed="12"/><feColorMatrix type="matrix" values="1 0 0 0 0 1 0 0 0 0 1 0 0 0 0 0 0 0 0 1"/><feComponentTransfer><feFuncR type="linear" slope="-1.8" intercept="0.55"/><feFuncG type="linear" slope="-1.8" intercept="0.55"/><feFuncB type="linear" slope="-1.8" intercept="0.55"/></feComponentTransfer></filter>
<g><rect x="0" y="0" width="171" height="170.7" filter="url(#netha)" style="mix-blend-mode:lighten"/></g>
</g>
<g filter="url(#hb4)">
<polygon points="83.0,-2.0 174.0,-2.0 174.0,70.0 164.0,60.0 156.0,42.0 146.0,28.0 128.0,19.0 110.0,13.0 100.0,9.0 90.0,4.0" fill="rgb(0,0,0)"/>
</g>
<g filter="url(#hb1)" style="mix-blend-mode:lighten">
<polyline points="20.8,5.1 35.0,12.8 47.8,20.6 56.8,25.7 65.8,36.0 76.1,45.0 87.0,54.0" fill="none" stroke="rgb(144,144,144)" stroke-width="3.9749999999999996" stroke-linecap="round" stroke-linejoin="round" style="mix-blend-mode:lighten"/>
<polyline points="2.9,69.4 11.8,64.2 20.8,56.5 28.5,48.8 33.7,38.5 40.1,28.3 46.5,21.8" fill="none" stroke="rgb(128,128,128)" stroke-width="3.5999999999999996" stroke-linecap="round" stroke-linejoin="round" style="mix-blend-mode:lighten"/>
<polyline points="53.0,0.0 63.2,3.9 76.1,5.1 87.0,7.7" fill="none" stroke="rgb(124,124,124)" stroke-width="3.5999999999999996" stroke-linecap="round" stroke-linejoin="round" style="mix-blend-mode:lighten"/>
<polyline points="-1.0,32.1 11.8,29.5 24.7,25.7 35.0,19.3 41.4,15.4" fill="none" stroke="rgb(113,113,113)" stroke-width="3.2249999999999996" stroke-linecap="round" stroke-linejoin="round" style="mix-blend-mode:lighten"/>
<polyline points="18.3,42.4 32.4,36.0 41.4,28.3" fill="none" stroke="rgb(113,113,113)" stroke-width="3.2249999999999996" stroke-linecap="round" stroke-linejoin="round" style="mix-blend-mode:lighten"/>
<polyline points="22.1,7.7 24.7,16.7 26.0,25.7 22.1,38.5" fill="none" stroke="rgb(107,107,107)" stroke-width="3.2249999999999996" stroke-linecap="round" stroke-linejoin="round" style="mix-blend-mode:lighten"/>
<polyline points="63.2,38.5 65.8,48.8 64.5,61.7 61.9,71.9" fill="none" stroke="rgb(124,124,124)" stroke-width="3.2249999999999996" stroke-linecap="round" stroke-linejoin="round" style="mix-blend-mode:lighten"/>
<polyline points="-1.0,54.0 9.3,51.4 20.8,51.4 32.4,47.5 44.0,47.5" fill="none" stroke="rgb(113,113,113)" stroke-width="3.2249999999999996" stroke-linecap="round" stroke-linejoin="round" style="mix-blend-mode:lighten"/>
<polyline points="47.8,42.4 56.8,38.5 69.7,42.4 82.5,48.8" fill="none" stroke="rgb(107,107,107)" stroke-width="3.2249999999999996" stroke-linecap="round" stroke-linejoin="round" style="mix-blend-mode:lighten"/>
<polyline points="70.9,71.9 76.1,82.2 82.5,88.0" fill="none" stroke="rgb(103,103,103)" stroke-width="3.2249999999999996" stroke-linecap="round" stroke-linejoin="round" style="mix-blend-mode:lighten"/>
<polyline points="-1.0,83.5 11.8,79.7 31.1,71.9 44.0,66.8" fill="none" stroke="rgb(113,113,113)" stroke-width="3.2249999999999996" stroke-linecap="round" stroke-linejoin="round" style="mix-blend-mode:lighten"/>
<polyline points="86.6,10.3 96.8,19.3 107.1,27.0 116.1,28.3 126.4,25.7 138.0,23.1 148.2,21.8" fill="none" stroke="rgb(148,148,148)" stroke-width="3.9749999999999996" stroke-linecap="round" stroke-linejoin="round" style="mix-blend-mode:lighten"/>
<polyline points="84.0,42.4 96.8,47.5 109.7,51.4 122.5,54.0 132.8,57.8 145.7,64.2 158.5,71.9 172.0,79.7" fill="none" stroke="rgb(128,128,128)" stroke-width="3.5999999999999996" stroke-linecap="round" stroke-linejoin="round" style="mix-blend-mode:lighten"/>
<polyline points="84.0,51.4 91.7,60.4 99.4,69.4 107.1,77.1 113.5,84.8" fill="none" stroke="rgb(136,136,136)" stroke-width="3.5999999999999996" stroke-linecap="round" stroke-linejoin="round" style="mix-blend-mode:lighten"/>
<polyline points="99.4,36.0 109.7,42.4 122.5,48.8 135.4,54.0" fill="none" stroke="rgb(107,107,107)" stroke-width="3.2249999999999996" stroke-linecap="round" stroke-linejoin="round" style="mix-blend-mode:lighten"/>
<polyline points="135.4,25.7 138.0,36.0 141.8,42.4 150.8,32.1 155.9,25.7" fill="none" stroke="rgb(113,113,113)" stroke-width="3.2249999999999996" stroke-linecap="round" stroke-linejoin="round" style="mix-blend-mode:lighten"/>
<polyline points="84.0,32.1 91.7,38.5 99.4,42.4" fill="none" stroke="rgb(103,103,103)" stroke-width="3.2249999999999996" stroke-linecap="round" stroke-linejoin="round" style="mix-blend-mode:lighten"/>
<polyline points="155.9,38.5 163.7,51.4 172.0,61.7" fill="none" stroke="rgb(99,99,99)" stroke-width="3.2249999999999996" stroke-linecap="round" stroke-linejoin="round" style="mix-blend-mode:lighten"/>
<polyline points="-1.0,103.3 11.8,105.8 24.7,107.1 37.5,105.8 47.8,103.3 56.8,96.8 65.8,90.4" fill="none" stroke="rgb(136,136,136)" stroke-width="3.9749999999999996" stroke-linecap="round" stroke-linejoin="round" style="mix-blend-mode:lighten"/>
<polyline points="9.3,125.1 24.7,138.0 37.5,145.7 56.8,146.9" fill="none" stroke="rgb(128,128,128)" stroke-width="3.5999999999999996" stroke-linecap="round" stroke-linejoin="round" style="mix-blend-mode:lighten"/>
<polyline points="-1.0,116.1 9.3,125.1 18.3,132.8" fill="none" stroke="rgb(128,128,128)" stroke-width="3.5999999999999996" stroke-linecap="round" stroke-linejoin="round" style="mix-blend-mode:lighten"/>
<polyline points="18.3,116.1 31.1,126.4 44.0,131.5 56.8,132.8" fill="none" stroke="rgb(120,120,120)" stroke-width="3.5999999999999996" stroke-linecap="round" stroke-linejoin="round" style="mix-blend-mode:lighten"/>
<polyline points="50.4,132.8 69.7,126.4 87.0,120.0" fill="none" stroke="rgb(120,120,120)" stroke-width="3.5999999999999996" stroke-linecap="round" stroke-linejoin="round" style="mix-blend-mode:lighten"/>
<polyline points="-1.0,145.7 11.8,141.8 24.7,140.5" fill="none" stroke="rgb(124,124,124)" stroke-width="3.5999999999999996" stroke-linecap="round" stroke-linejoin="round" style="mix-blend-mode:lighten"/>
<polyline points="24.7,150.8 37.5,155.9 50.4,158.5" fill="none" stroke="rgb(113,113,113)" stroke-width="3.5999999999999996" stroke-linecap="round" stroke-linejoin="round" style="mix-blend-mode:lighten"/>
<polyline points="41.4,96.8 44.0,109.7 41.4,122.5 37.5,135.4" fill="none" stroke="rgb(113,113,113)" stroke-width="3.2249999999999996" stroke-linecap="round" stroke-linejoin="round" style="mix-blend-mode:lighten"/>
<polyline points="65.8,152.1 76.1,148.2 87.0,144.4" fill="none" stroke="rgb(120,120,120)" stroke-width="3.5999999999999996" stroke-linecap="round" stroke-linejoin="round" style="mix-blend-mode:lighten"/>
<polyline points="132.8,98.8 120.0,104.6 107.1,111.0 94.3,117.4 84.0,121.3" fill="none" stroke="rgb(136,136,136)" stroke-width="3.9749999999999996" stroke-linecap="round" stroke-linejoin="round" style="mix-blend-mode:lighten"/>
<polyline points="132.8,98.8 145.7,94.3 158.5,90.4 172.0,86.6" fill="none" stroke="rgb(136,136,136)" stroke-width="3.9749999999999996" stroke-linecap="round" stroke-linejoin="round" style="mix-blend-mode:lighten"/>
<polyline points="132.8,98.8 126.4,91.7 120.0,84.0" fill="none" stroke="rgb(136,136,136)" stroke-width="3.9749999999999996" stroke-linecap="round" stroke-linejoin="round" style="mix-blend-mode:lighten"/>
<polyline points="138.0,102.0 150.8,108.4 161.1,109.7 172.0,112.3" fill="none" stroke="rgb(120,120,120)" stroke-width="3.5999999999999996" stroke-linecap="round" stroke-linejoin="round" style="mix-blend-mode:lighten"/>
<polyline points="84.0,138.0 96.8,132.8 109.7,125.1 122.5,116.1 132.8,107.1" fill="none" stroke="rgb(124,124,124)" stroke-width="3.5999999999999996" stroke-linecap="round" stroke-linejoin="round" style="mix-blend-mode:lighten"/>
<polyline points="116.1,140.5 129.0,138.0 141.8,136.7 154.7,122.5 161.1,116.1" fill="none" stroke="rgb(128,128,128)" stroke-width="3.5999999999999996" stroke-linecap="round" stroke-linejoin="round" style="mix-blend-mode:lighten"/>
<polyline points="141.8,136.7 154.7,145.7 167.5,155.9" fill="none" stroke="rgb(120,120,120)" stroke-width="3.5999999999999996" stroke-linecap="round" stroke-linejoin="round" style="mix-blend-mode:lighten"/>
<polyline points="84.0,146.9 96.8,144.4 109.7,140.5" fill="none" stroke="rgb(120,120,120)" stroke-width="3.5999999999999996" stroke-linecap="round" stroke-linejoin="round" style="mix-blend-mode:lighten"/>
<polyline points="84.0,155.9 103.3,153.4 122.5,148.2" fill="none" stroke="rgb(113,113,113)" stroke-width="3.5999999999999996" stroke-linecap="round" stroke-linejoin="round" style="mix-blend-mode:lighten"/>
<ellipse cx="56.810894141829394" cy="25.69373072970194" rx="4" ry="4" fill="rgb(186,186,186)" style="mix-blend-mode:lighten"/>
<ellipse cx="65.80369989722507" cy="37.255909558067856" rx="4" ry="3" fill="rgb(175,175,175)" style="mix-blend-mode:lighten"/>
<ellipse cx="132.81808838643371" cy="98.77389516957862" rx="4.5" ry="3.5" fill="rgb(213,213,213)" style="mix-blend-mode:lighten"/>
<ellipse cx="116.11716341212744" cy="27.62076053442962" rx="5" ry="3" fill="rgb(186,186,186)" style="mix-blend-mode:lighten"/>
<ellipse cx="9.277492291880781" cy="125.1099691675231" rx="3.5" ry="3.5" fill="rgb(175,175,175)" style="mix-blend-mode:lighten"/>
<ellipse cx="119.97122302158274" cy="140.52620760534433" rx="3.5" ry="3" fill="rgb(175,175,175)" style="mix-blend-mode:lighten"/>
<ellipse cx="141.8108941418294" cy="136.67214799588902" rx="3.5" ry="3.5" fill="rgb(186,186,186)" style="mix-blend-mode:lighten"/>
<ellipse cx="24.693730729701954" cy="158.51181911613565" rx="4" ry="3" fill="rgb(164,164,164)" style="mix-blend-mode:lighten"/>
</g>
</g>
<g filter="url(#cmap)"><rect x="0" y="162.00" width="171" height="9.70" fill="url(#cbg)"/></g>
<polygon points="67.5,58.0 75.6,51.7 73.1,59.3" fill="#c8302a"/>
<polygon points="105.0,29.2 114.0,22.3 112.7,27.4" fill="#c8302a"/>
</g></g>
<text x="182.3" y="376" class="pl">h</text>
<rect x="311" y="356.1" width="27.1" height="2.7" fill="#fff"/>
<text x="312.1" y="372.7" class="sb">2µm</text>
<text x="178.6" y="517.8000000000001" class="cb" fill="#fff">0</text>
<text x="345" y="517.9000000000001" class="cb" fill="#111" text-anchor="end">1837</text>
<clipPath id="clipj"><rect x="0" y="0" width="171" height="171.4"/></clipPath>
<filter id="texj" x="0" y="0" width="1" height="1" color-interpolation-filters="sRGB">
<feTurbulence type="fractalNoise" baseFrequency="0.12 0.012" numOctaves="2" seed="5" result="t"/>
<feColorMatrix in="t" type="matrix" values="1 0 0 0 0 1 0 0 0 0 1 0 0 0 0 0 0 0 0 1" result="g"/>
<feComponentTransfer in="g" result="n"><feFuncR type="linear" slope="2.0" intercept="-0.5"/><feFuncG type="linear" slope="2.0" intercept="-0.5"/><feFuncB type="linear" slope="2.0" intercept="-0.5"/></feComponentTransfer>
<feComposite in="SourceGraphic" in2="n" operator="arithmetic" k1="0.5" k2="0.78" k3="0" k4="0" result="m"/>
<feComponentTransfer in="m"><feFuncR type="table" tableValues="0.000 0.005 0.014 0.028 0.041 0.053 0.066 0.078 0.090 0.101 0.112 0.119 0.123 0.123 0.108 0.092 0.072 0.089 0.173 0.258 0.373 0.495 0.620 0.751 0.882 0.935 0.987 1.000 1.000 1.000 1.000 1.000 1.000"/><feFuncG type="table" tableValues="0.000 0.015 0.039 0.078 0.114 0.150 0.186 0.228 0.269 0.310 0.350 0.398 0.456 0.521 0.617 0.715 0.817 0.892 0.918 0.944 0.953 0.957 0.962 0.967 0.973 0.985 0.997 1.000 1.000 1.000 1.000 1.000 1.000"/><feFuncB type="table" tableValues="0.000 0.044 0.104 0.187 0.269 0.350 0.428 0.497 0.566 0.588 0.588 0.565 0.513 0.450 0.348 0.249 0.157 0.084 0.046 0.008 0.000 0.000 0.000 0.000 0.000 0.053 0.105 0.222 0.360 0.496 0.625 0.754 0.882"/></feComponentTransfer>
</filter>
<filter id="jb1" x="-20%" y="-20%" width="140%" height="140%" color-interpolation-filters="sRGB"><feGaussianBlur stdDeviation="1.6 3"/></filter>
<g transform="translate(1,521.6)"><g clip-path="url(#clipj)">
<g filter="url(#texj)">
<rect x="0" y="0" width="171" height="171.4" fill="rgb(8,8,8)"/>
<g>
<linearGradient id="shj0" gradientUnits="userSpaceOnUse" x1="0" y1="0" x2="0" y2="171"><stop offset="0.09" stop-color="rgb(64,64,64)"/><stop offset="0.34" stop-color="rgb(80,80,80)"/><stop offset="0.82" stop-color="rgb(64,64,64)"/></linearGradient>
<linearGradient id="shj1" gradientUnits="userSpaceOnUse" x1="0" y1="0" x2="0" y2="171"><stop offset="0.09" stop-color="rgb(40,40,40)"/><stop offset="0.34" stop-color="rgb(134,134,134)"/><stop offset="0.82" stop-color="rgb(107,107,107)"/></linearGradient>
<linearGradient id="shj2" gradientUnits="userSpaceOnUse" x1="0" y1="0" x2="0" y2="171"><stop offset="0.09" stop-color="rgb(147,147,147)"/><stop offset="0.34" stop-color="rgb(27,27,27)"/><stop offset="0.82" stop-color="rgb(94,94,94)"/></linearGradient>
<linearGradient id="shj3" gradientUnits="userSpaceOnUse" x1="0" y1="0" x2="0" y2="171"><stop offset="0.09" stop-color="rgb(80,80,80)"/><stop offset="0.34" stop-color="rgb(147,147,147)"/><stop offset="0.82" stop-color="rgb(147,147,147)"/></linearGradient>
<linearGradient id="shj4" gradientUnits="userSpaceOnUse" x1="0" y1="0" x2="0" y2="171"><stop offset="0.09" stop-color="rgb(134,134,134)"/><stop offset="0.34" stop-color="rgb(67,67,67)"/><stop offset="0.82" stop-color="rgb(147,147,147)"/></linearGradient>
<linearGradient id="shj5" gradientUnits="userSpaceOnUse" x1="0" y1="0" x2="0" y2="171"><stop offset="0.09" stop-color="rgb(27,27,27)"/><stop offset="0.34" stop-color="rgb(54,54,54)"/><stop offset="0.82" stop-color="rgb(134,134,134)"/></linearGradient>
<linearGradient id="shj6" gradientUnits="userSpaceOnUse" x1="0" y1="0" x2="0" y2="171"><stop offset="0.09" stop-color="rgb(187,187,187)"/><stop offset="0.34" stop-color="rgb(214,214,214)"/><stop offset="0.82" stop-color="rgb(54,54,54)"/></linearGradient>
<linearGradient id="shj7" gradientUnits="userSpaceOnUse" x1="0" y1="0" x2="0" y2="171"><stop offset="0.09" stop-color="rgb(120,120,120)"/><stop offset="0.34" stop-color="rgb(27,27,27)"/><stop offset="0.82" stop-color="rgb(228,228,228)"/></linearGradient>
<linearGradient id="shj8" gradientUnits="userSpaceOnUse" x1="0" y1="0" x2="0" y2="171"><stop offset="0.09" stop-color="rgb(94,94,94)"/><stop offset="0.34" stop-color="rgb(187,187,187)"/><stop offset="0.82" stop-color="rgb(147,147,147)"/></linearGradient>
<linearGradient id="shj9" gradientUnits="userSpaceOnUse" x1="0" y1="0" x2="0" y2="171"><stop offset="0.09" stop-color="rgb(120,120,120)"/><stop offset="0.34" stop-color="rgb(27,27,27)"/><stop offset="0.82" stop-color="rgb(80,80,80)"/></linearGradient>
<linearGradient id="shj10" gradientUnits="userSpaceOnUse" x1="0" y1="0" x2="0" y2="171"><stop offset="0.09" stop-color="rgb(120,120,120)"/><stop offset="0.34" stop-color="rgb(120,120,120)"/><stop offset="0.82" stop-color="rgb(107,107,107)"/></linearGradient>
<linearGradient id="shj11" gradientUnits="userSpaceOnUse" x1="0" y1="0" x2="0" y2="171"><stop offset="0.09" stop-color="rgb(134,134,134)"/><stop offset="0.34" stop-color="rgb(27,27,27)"/><stop offset="0.82" stop-color="rgb(27,27,27)"/></linearGradient>
<linearGradient id="shj12" gradientUnits="userSpaceOnUse" x1="0" y1="0" x2="0" y2="171"><stop offset="0.09" stop-color="rgb(27,27,27)"/><stop offset="0.34" stop-color="rgb(147,147,147)"/><stop offset="0.82" stop-color="rgb(118,118,118)"/></linearGradient>
<linearGradient id="shj13" gradientUnits="userSpaceOnUse" x1="0" y1="0" x2="0" y2="171"><stop offset="0.09" stop-color="rgb(80,80,80)"/><stop offset="0.34" stop-color="rgb(54,54,54)"/><stop offset="0.82" stop-color="rgb(174,174,174)"/></linearGradient>
<linearGradient id="shj14" gradientUnits="userSpaceOnUse" x1="0" y1="0" x2="0" y2="171"><stop offset="0.09" stop-color="rgb(80,80,80)"/><stop offset="0.34" stop-color="rgb(94,94,94)"/><stop offset="0.82" stop-color="rgb(134,134,134)"/></linearGradient>
<linearGradient id="shj15" gradientUnits="userSpaceOnUse" x1="0" y1="0" x2="0" y2="171"><stop offset="0.09" stop-color="rgb(174,174,174)"/><stop offset="0.34" stop-color="rgb(27,27,27)"/><stop offset="0.82" stop-color="rgb(80,80,80)"/></linearGradient>
<linearGradient id="shj16" gradientUnits="userSpaceOnUse" x1="0" y1="0" x2="0" y2="171"><stop offset="0.09" stop-color="rgb(154,154,154)"/><stop offset="0.34" stop-color="rgb(193,193,193)"/><stop offset="0.82" stop-color="rgb(187,187,187)"/></linearGradient>
<linearGradient id="shj17" gradientUnits="userSpaceOnUse" x1="0" y1="0" x2="0" y2="171"><stop offset="0.09" stop-color="rgb(161,161,161)"/><stop offset="0.34" stop-color="rgb(80,80,80)"/><stop offset="0.82" stop-color="rgb(147,147,147)"/></linearGradient>
<linearGradient id="shj18" gradientUnits="userSpaceOnUse" x1="0" y1="0" x2="0" y2="171"><stop offset="0.09" stop-color="rgb(27,27,27)"/><stop offset="0.34" stop-color="rgb(134,134,134)"/><stop offset="0.82" stop-color="rgb(107,107,107)"/></linearGradient>
<linearGradient id="shj19" gradientUnits="userSpaceOnUse" x1="0" y1="0" x2="0" y2="171"><stop offset="0.09" stop-color="rgb(80,80,80)"/><stop offset="0.34" stop-color="rgb(54,54,54)"/><stop offset="0.82" stop-color="rgb(80,80,80)"/></linearGradient>
<linearGradient id="shj20" gradientUnits="userSpaceOnUse" x1="0" y1="0" x2="0" y2="171"><stop offset="0.09" stop-color="rgb(134,134,134)"/><stop offset="0.34" stop-color="rgb(94,94,94)"/><stop offset="0.82" stop-color="rgb(80,80,80)"/></linearGradient>
<linearGradient id="shj21" gradientUnits="userSpaceOnUse" x1="0" y1="0" x2="0" y2="171"><stop offset="0.09" stop-color="rgb(134,134,134)"/><stop offset="0.34" stop-color="rgb(107,107,107)"/><stop offset="0.82" stop-color="rgb(27,27,27)"/></linearGradient>
</g>
<g filter="url(#jb1)">
<line x1="11.8" y1="-2" x2="-14.4" y2="173" stroke="url(#shj0)" stroke-width="5.0" style="mix-blend-mode:lighten"/>
<line x1="19.5" y1="-2" x2="-6.8" y2="173" stroke="url(#shj1)" stroke-width="6.0" style="mix-blend-mode:lighten"/>
<line x1="27.2" y1="-2" x2="0.9" y2="173" stroke="url(#shj2)" stroke-width="6.2" style="mix-blend-mode:lighten"/>
<line x1="32.3" y1="-2" x2="6.1" y2="173" stroke="url(#shj3)" stroke-width="6.2" style="mix-blend-mode:lighten"/>
<line x1="38.7" y1="-2" x2="12.4" y2="173" stroke="url(#shj4)" stroke-width="6.2" style="mix-blend-mode:lighten"/>
<line x1="46.3" y1="-2" x2="20.0" y2="173" stroke="url(#shj5)" stroke-width="6.0" style="mix-blend-mode:lighten"/>
<line x1="55.3" y1="-2" x2="29.0" y2="173" stroke="url(#shj6)" stroke-width="7.4" style="mix-blend-mode:lighten"/>
<line x1="66.8" y1="-2" x2="40.5" y2="173" stroke="url(#shj7)" stroke-width="7.7" style="mix-blend-mode:lighten"/>
<line x1="74.4" y1="-2" x2="48.2" y2="173" stroke="url(#shj8)" stroke-width="7.0" style="mix-blend-mode:lighten"/>
<line x1="82.1" y1="-2" x2="55.8" y2="173" stroke="url(#shj9)" stroke-width="5.8" style="mix-blend-mode:lighten"/>
<line x1="89.8" y1="-2" x2="63.5" y2="173" stroke="url(#shj10)" stroke-width="5.8" style="mix-blend-mode:lighten"/>
<line x1="96.1" y1="-2" x2="69.8" y2="173" stroke="url(#shj11)" stroke-width="6.0" style="mix-blend-mode:lighten"/>
<line x1="106.4" y1="-2" x2="80.2" y2="173" stroke="url(#shj12)" stroke-width="6.2" style="mix-blend-mode:lighten"/>
<line x1="115.3" y1="-2" x2="89.0" y2="173" stroke="url(#shj13)" stroke-width="6.7" style="mix-blend-mode:lighten"/>
<line x1="121.7" y1="-2" x2="95.5" y2="173" stroke="url(#shj14)" stroke-width="6.0" style="mix-blend-mode:lighten"/>
<line x1="128.1" y1="-2" x2="101.8" y2="173" stroke="url(#shj15)" stroke-width="6.7" style="mix-blend-mode:lighten"/>
<line x1="138.3" y1="-2" x2="112.1" y2="173" stroke="url(#shj16)" stroke-width="7.1" style="mix-blend-mode:lighten"/>
<line x1="147.2" y1="-2" x2="120.9" y2="173" stroke="url(#shj17)" stroke-width="6.5" style="mix-blend-mode:lighten"/>
<line x1="153.6" y1="-2" x2="127.3" y2="173" stroke="url(#shj18)" stroke-width="6.0" style="mix-blend-mode:lighten"/>
<line x1="161.3" y1="-2" x2="135.1" y2="173" stroke="url(#shj19)" stroke-width="5.0" style="mix-blend-mode:lighten"/>
<line x1="169.0" y1="-2" x2="142.8" y2="173" stroke="url(#shj20)" stroke-width="6.0" style="mix-blend-mode:lighten"/>
<line x1="176.6" y1="-2" x2="150.3" y2="173" stroke="url(#shj21)" stroke-width="6.0" style="mix-blend-mode:lighten"/>
</g>
</g>
<g filter="url(#cmap)"><rect x="0" y="162.40" width="171" height="10.00" fill="url(#cbg)"/></g>
<polygon points="20.7,28.0 30.9,30.6 20.7,33.7" fill="#c8302a"/>
<polygon points="65.4,36.2 75.6,33.2 75.6,39.6" fill="#c8302a"/>
<polygon points="78.2,54.1 89.7,56.9 78.2,60.0" fill="#c8302a"/>
<polygon points="122.9,56.9 134.4,54.1 134.4,60.0" fill="#c8302a"/>
</g></g>
<text x="10.9" y="543" class="pl">j</text>
<rect x="137" y="530.3" width="27.1" height="2.4" fill="#fff"/>
<text x="138.8" y="544.7" class="sb">2µm</text>
<text x="4.6" y="692.1" class="cb" fill="#fff">0</text>
<text x="171" y="692.2" class="cb" fill="#111" text-anchor="end">43956</text>
<clipPath id="clipk"><rect x="0" y="0" width="171" height="171.4"/></clipPath>
<filter id="texk" x="0" y="0" width="1" height="1" color-interpolation-filters="sRGB">
<feTurbulence type="fractalNoise" baseFrequency="0.15 0.012" numOctaves="2" seed="7" result="t"/>
<feColorMatrix in="t" type="matrix" values="1 0 0 0 0 1 0 0 0 0 1 0 0 0 0 0 0 0 0 1" result="g"/>
<feComponentTransfer in="g" result="n"><feFuncR type="linear" slope="2.2" intercept="-0.6000000000000001"/><feFuncG type="linear" slope="2.2" intercept="-0.6000000000000001"/><feFuncB type="linear" slope="2.2" intercept="-0.6000000000000001"/></feComponentTransfer>
<feComposite in="SourceGraphic" in2="n" operator="arithmetic" k1="0.7" k2="0.7" k3="0" k4="0" result="m"/>
<feComponentTransfer in="m"><feFuncR type="table" tableValues="0.000 0.005 0.014 0.028 0.041 0.053 0.066 0.078 0.090 0.101 0.112 0.119 0.123 0.123 0.108 0.092 0.072 0.089 0.173 0.258 0.373 0.495 0.620 0.751 0.882 0.935 0.987 1.000 1.000 1.000 1.000 1.000 1.000"/><feFuncG type="table" tableValues="0.000 0.015 0.039 0.078 0.114 0.150 0.186 0.228 0.269 0.310 0.350 0.398 0.456 0.521 0.617 0.715 0.817 0.892 0.918 0.944 0.953 0.957 0.962 0.967 0.973 0.985 0.997 1.000 1.000 1.000 1.000 1.000 1.000"/><feFuncB type="table" tableValues="0.000 0.044 0.104 0.187 0.269 0.350 0.428 0.497 0.566 0.588 0.588 0.565 0.513 0.450 0.348 0.249 0.157 0.084 0.046 0.008 0.000 0.000 0.000 0.000 0.000 0.053 0.105 0.222 0.360 0.496 0.625 0.754 0.882"/></feComponentTransfer>
</filter>
<filter id="kb1" x="-20%" y="-20%" width="140%" height="140%" color-interpolation-filters="sRGB"><feGaussianBlur stdDeviation="1.0 2"/></filter>
<g transform="translate(175,521.6)"><g clip-path="url(#clipk)">
<g filter="url(#texk)">
<rect x="0" y="0" width="171" height="171.4" fill="rgb(13,13,13)"/>
<g>
<linearGradient id="shk0" gradientUnits="userSpaceOnUse" x1="0" y1="0" x2="0" y2="171"><stop offset="0.09" stop-color="rgb(67,67,67)"/><stop offset="0.34" stop-color="rgb(84,84,84)"/><stop offset="0.82" stop-color="rgb(67,67,67)"/></linearGradient>
<linearGradient id="shk1" gradientUnits="userSpaceOnUse" x1="0" y1="0" x2="0" y2="171"><stop offset="0.09" stop-color="rgb(42,42,42)"/><stop offset="0.34" stop-color="rgb(140,140,140)"/><stop offset="0.82" stop-color="rgb(112,112,112)"/></linearGradient>
<linearGradient id="shk2" gradientUnits="userSpaceOnUse" x1="0" y1="0" x2="0" y2="171"><stop offset="0.09" stop-color="rgb(154,154,154)"/><stop offset="0.34" stop-color="rgb(28,28,28)"/><stop offset="0.82" stop-color="rgb(98,98,98)"/></linearGradient>
<linearGradient id="shk3" gradientUnits="userSpaceOnUse" x1="0" y1="0" x2="0" y2="171"><stop offset="0.09" stop-color="rgb(84,84,84)"/><stop offset="0.34" stop-color="rgb(154,154,154)"/><stop offset="0.82" stop-color="rgb(154,154,154)"/></linearGradient>
<linearGradient id="shk4" gradientUnits="userSpaceOnUse" x1="0" y1="0" x2="0" y2="171"><stop offset="0.09" stop-color="rgb(140,140,140)"/><stop offset="0.34" stop-color="rgb(70,70,70)"/><stop offset="0.82" stop-color="rgb(154,154,154)"/></linearGradient>
<linearGradient id="shk5" gradientUnits="userSpaceOnUse" x1="0" y1="0" x2="0" y2="171"><stop offset="0.09" stop-color="rgb(28,28,28)"/><stop offset="0.34" stop-color="rgb(56,56,56)"/><stop offset="0.82" stop-color="rgb(140,140,140)"/></linearGradient>
<linearGradient id="shk6" gradientUnits="userSpaceOnUse" x1="0" y1="0" x2="0" y2="171"><stop offset="0.09" stop-color="rgb(196,196,196)"/><stop offset="0.34" stop-color="rgb(224,224,224)"/><stop offset="0.82" stop-color="rgb(56,56,56)"/></linearGradient>
<linearGradient id="shk7" gradientUnits="userSpaceOnUse" x1="0" y1="0" x2="0" y2="171"><stop offset="0.09" stop-color="rgb(126,126,126)"/><stop offset="0.34" stop-color="rgb(28,28,28)"/><stop offset="0.82" stop-color="rgb(238,238,238)"/></linearGradient>
<linearGradient id="shk8" gradientUnits="userSpaceOnUse" x1="0" y1="0" x2="0" y2="171"><stop offset="0.09" stop-color="rgb(98,98,98)"/><stop offset="0.34" stop-color="rgb(196,196,196)"/><stop offset="0.82" stop-color="rgb(154,154,154)"/></linearGradient>
<linearGradient id="shk9" gradientUnits="userSpaceOnUse" x1="0" y1="0" x2="0" y2="171"><stop offset="0.09" stop-color="rgb(126,126,126)"/><stop offset="0.34" stop-color="rgb(28,28,28)"/><stop offset="0.82" stop-color="rgb(84,84,84)"/></linearGradient>
<linearGradient id="shk10" gradientUnits="userSpaceOnUse" x1="0" y1="0" x2="0" y2="171"><stop offset="0.09" stop-color="rgb(126,126,126)"/><stop offset="0.34" stop-color="rgb(126,126,126)"/><stop offset="0.82" stop-color="rgb(112,112,112)"/></linearGradient>
<linearGradient id="shk11" gradientUnits="userSpaceOnUse" x1="0" y1="0" x2="0" y2="171"><stop offset="0.09" stop-color="rgb(140,140,140)"/><stop offset="0.34" stop-color="rgb(28,28,28)"/><stop offset="0.82" stop-color="rgb(28,28,28)"/></linearGradient>
<linearGradient id="shk12" gradientUnits="userSpaceOnUse" x1="0" y1="0" x2="0" y2="171"><stop offset="0.09" stop-color="rgb(28,28,28)"/><stop offset="0.34" stop-color="rgb(154,154,154)"/><stop offset="0.82" stop-color="rgb(123,123,123)"/></linearGradient>
<linearGradient id="shk13" gradientUnits="userSpaceOnUse" x1="0" y1="0" x2="0" y2="171"><stop offset="0.09" stop-color="rgb(84,84,84)"/><stop offset="0.34" stop-color="rgb(56,56,56)"/><stop offset="0.82" stop-color="rgb(182,182,182)"/></linearGradient>
<linearGradient id="shk14" gradientUnits="userSpaceOnUse" x1="0" y1="0" x2="0" y2="171"><stop offset="0.09" stop-color="rgb(84,84,84)"/><stop offset="0.34" stop-color="rgb(98,98,98)"/><stop offset="0.82" stop-color="rgb(140,140,140)"/></linearGradient>
<linearGradient id="shk15" gradientUnits="userSpaceOnUse" x1="0" y1="0" x2="0" y2="171"><stop offset="0.09" stop-color="rgb(182,182,182)"/><stop offset="0.34" stop-color="rgb(28,28,28)"/><stop offset="0.82" stop-color="rgb(84,84,84)"/></linearGradient>
<linearGradient id="shk16" gradientUnits="userSpaceOnUse" x1="0" y1="0" x2="0" y2="171"><stop offset="0.09" stop-color="rgb(162,162,162)"/><stop offset="0.34" stop-color="rgb(202,202,202)"/><stop offset="0.82" stop-color="rgb(196,196,196)"/></linearGradient>
<linearGradient id="shk17" gradientUnits="userSpaceOnUse" x1="0" y1="0" x2="0" y2="171"><stop offset="0.09" stop-color="rgb(168,168,168)"/><stop offset="0.34" stop-color="rgb(84,84,84)"/><stop offset="0.82" stop-color="rgb(154,154,154)"/></linearGradient>
<linearGradient id="shk18" gradientUnits="userSpaceOnUse" x1="0" y1="0" x2="0" y2="171"><stop offset="0.09" stop-color="rgb(28,28,28)"/><stop offset="0.34" stop-color="rgb(140,140,140)"/><stop offset="0.82" stop-color="rgb(112,112,112)"/></linearGradient>
<linearGradient id="shk19" gradientUnits="userSpaceOnUse" x1="0" y1="0" x2="0" y2="171"><stop offset="0.09" stop-color="rgb(84,84,84)"/><stop offset="0.34" stop-color="rgb(56,56,56)"/><stop offset="0.82" stop-color="rgb(84,84,84)"/></linearGradient>
<linearGradient id="shk20" gradientUnits="userSpaceOnUse" x1="0" y1="0" x2="0" y2="171"><stop offset="0.09" stop-color="rgb(140,140,140)"/><stop offset="0.34" stop-color="rgb(98,98,98)"/><stop offset="0.82" stop-color="rgb(84,84,84)"/></linearGradient>
<linearGradient id="shk21" gradientUnits="userSpaceOnUse" x1="0" y1="0" x2="0" y2="171"><stop offset="0.09" stop-color="rgb(140,140,140)"/><stop offset="0.34" stop-color="rgb(112,112,112)"/><stop offset="0.82" stop-color="rgb(28,28,28)"/></linearGradient>
</g>
<g filter="url(#kb1)">
<line x1="11.8" y1="-2" x2="-14.4" y2="173" stroke="url(#shk0)" stroke-width="3.6" style="mix-blend-mode:lighten"/>
<line x1="19.5" y1="-2" x2="-6.8" y2="173" stroke="url(#shk1)" stroke-width="4.2" style="mix-blend-mode:lighten"/>
<line x1="27.2" y1="-2" x2="0.9" y2="173" stroke="url(#shk2)" stroke-width="4.4" style="mix-blend-mode:lighten"/>
<line x1="32.3" y1="-2" x2="6.1" y2="173" stroke="url(#shk3)" stroke-width="4.4" style="mix-blend-mode:lighten"/>
<line x1="38.7" y1="-2" x2="12.4" y2="173" stroke="url(#shk4)" stroke-width="4.4" style="mix-blend-mode:lighten"/>
<line x1="46.3" y1="-2" x2="20.0" y2="173" stroke="url(#shk5)" stroke-width="4.2" style="mix-blend-mode:lighten"/>
<line x1="55.3" y1="-2" x2="29.0" y2="173" stroke="url(#shk6)" stroke-width="5.3" style="mix-blend-mode:lighten"/>
<line x1="66.8" y1="-2" x2="40.5" y2="173" stroke="url(#shk7)" stroke-width="5.4" style="mix-blend-mode:lighten"/>
<line x1="74.4" y1="-2" x2="48.2" y2="173" stroke="url(#shk8)" stroke-width="4.9" style="mix-blend-mode:lighten"/>
<line x1="82.1" y1="-2" x2="55.8" y2="173" stroke="url(#shk9)" stroke-width="4.1" style="mix-blend-mode:lighten"/>
<line x1="89.8" y1="-2" x2="63.5" y2="173" stroke="url(#shk10)" stroke-width="4.1" style="mix-blend-mode:lighten"/>
<line x1="96.1" y1="-2" x2="69.8" y2="173" stroke="url(#shk11)" stroke-width="4.2" style="mix-blend-mode:lighten"/>
<line x1="106.4" y1="-2" x2="80.2" y2="173" stroke="url(#shk12)" stroke-width="4.4" style="mix-blend-mode:lighten"/>
<line x1="115.3" y1="-2" x2="89.0" y2="173" stroke="url(#shk13)" stroke-width="4.8" style="mix-blend-mode:lighten"/>
<line x1="121.7" y1="-2" x2="95.5" y2="173" stroke="url(#shk14)" stroke-width="4.2" style="mix-blend-mode:lighten"/>
<line x1="128.1" y1="-2" x2="101.8" y2="173" stroke="url(#shk15)" stroke-width="4.8" style="mix-blend-mode:lighten"/>
<line x1="138.3" y1="-2" x2="112.1" y2="173" stroke="url(#shk16)" stroke-width="5.0" style="mix-blend-mode:lighten"/>
<line x1="147.2" y1="-2" x2="120.9" y2="173" stroke="url(#shk17)" stroke-width="4.6" style="mix-blend-mode:lighten"/>
<line x1="153.6" y1="-2" x2="127.3" y2="173" stroke="url(#shk18)" stroke-width="4.2" style="mix-blend-mode:lighten"/>
<line x1="161.3" y1="-2" x2="135.1" y2="173" stroke="url(#shk19)" stroke-width="3.6" style="mix-blend-mode:lighten"/>
<line x1="169.0" y1="-2" x2="142.8" y2="173" stroke="url(#shk20)" stroke-width="4.2" style="mix-blend-mode:lighten"/>
<line x1="176.6" y1="-2" x2="150.3" y2="173" stroke="url(#shk21)" stroke-width="4.2" style="mix-blend-mode:lighten"/>
</g>
</g>
<g filter="url(#cmap)"><rect x="0" y="162.40" width="171" height="10.00" fill="url(#cbg)"/></g>
<polygon points="20.7,28.0 30.9,30.6 20.7,33.7" fill="#c8302a"/>
<polygon points="65.4,36.2 75.6,33.2 75.6,39.6" fill="#c8302a"/>
</g></g>
<text x="184.2" y="547.7" class="pl">k</text>
<rect x="307.2" y="529.8" width="26.5" height="2.2" fill="#fff"/>
<text x="307.6" y="543.6" class="sb">2µm</text>
<text x="178.6" y="692.1" class="cb" fill="#fff">0</text>
<text x="345" y="692.2" class="cb" fill="#111" text-anchor="end">104</text>
<line x1="375.2" y1="5.5" x2="375.2" y2="690.8" stroke="#8c8c8c" stroke-width="1.5"/>
<line x1="679.0" y1="5.5" x2="679.0" y2="690.8" stroke="#8c8c8c" stroke-width="1.5"/>
<line x1="375.2" y1="6" x2="679.0" y2="6" stroke="#8c8c8c" stroke-width="1.5"/>
<polyline points="375.0,176.1 399.4,175.4 423.8,174.4 436.0,173.4 448.2,171.5 455.5,169.0 461.6,165.9 467.7,162.7 472.6,161.7 478.7,162.7 484.8,159.8 490.9,141.5 495.8,115.8 499.5,86.5 503.1,59.7 506.8,32.8 509.2,24.3 514.1,21.1 517.8,30.4 521.4,47.5 526.3,76.8 528.7,103.6 533.5,132.9 539.6,151.2 545.7,158.5 551.8,159.8 558.0,157.3 564.0,150.0 570.2,137.8 576.3,123.2 582.4,112.9 588.5,118.8 594.6,135.4 600.7,150.0 606.8,162.2 611.6,168.3 617.7,170.8 627.5,171.5 642.2,172.0 656.8,172.5 671.4,173.0 676.3,171.5 679.0,170.5" fill="none" stroke="#262a80" stroke-width="1.3" stroke-linejoin="round"/>
<polyline points="375.0,176.1 423.8,175.6 436.0,174.4 448.2,172.0 459.2,169.0 465.3,171.5 472.6,175.6 484.8,176.1 490.9,173.2 494.6,147.6 498.3,108.5 501.9,71.9 505.6,40.2 509.2,20.6 514.6,21.1 517.8,37.7 521.4,69.5 525.1,103.6 527.4,140.2 529.9,162.2 533.5,173.2 538.4,175.6 544.5,176.1 550.6,174.4 556.7,167.1 562.8,152.4 568.9,125.6 575.0,96.3 582.4,82.9 588.5,92.6 594.6,113.4 600.7,137.8 606.8,159.8 612.9,170.0 619.0,174.4 627.5,174.9 637.3,173.9 647.0,174.4 656.8,174.9 666.6,175.6 676.3,174.9 679.0,174.5" fill="none" stroke="#cc2230" stroke-width="1.3" stroke-linejoin="round"/>
<line x1="375.2" y1="176.8" x2="679.0" y2="176.8" stroke="#8c8c8c" stroke-width="1.5"/>
<line x1="375.2" y1="138.0" x2="378.2" y2="138.0" stroke="#8c8c8c" stroke-width="1.1"/>
<line x1="676.0" y1="138.0" x2="679.0" y2="138.0" stroke="#8c8c8c" stroke-width="1"/>
<line x1="375.2" y1="99.2" x2="379.7" y2="99.2" stroke="#8c8c8c" stroke-width="1.1"/>
<line x1="676.0" y1="99.2" x2="679.0" y2="99.2" stroke="#8c8c8c" stroke-width="1"/>
<line x1="375.2" y1="60.3" x2="378.2" y2="60.3" stroke="#8c8c8c" stroke-width="1.1"/>
<line x1="676.0" y1="60.3" x2="679.0" y2="60.3" stroke="#8c8c8c" stroke-width="1"/>
<line x1="375.2" y1="21.5" x2="379.7" y2="21.5" stroke="#8c8c8c" stroke-width="1.1"/>
<line x1="676.0" y1="21.5" x2="679.0" y2="21.5" stroke="#8c8c8c" stroke-width="1"/>
<line x1="405.8" y1="176.8" x2="405.8" y2="173.3" stroke="#8c8c8c" stroke-width="1"/>
<line x1="436.1" y1="176.8" x2="436.1" y2="173.3" stroke="#8c8c8c" stroke-width="1"/>
<line x1="466.5" y1="176.8" x2="466.5" y2="173.3" stroke="#8c8c8c" stroke-width="1"/>
<line x1="496.8" y1="176.8" x2="496.8" y2="173.3" stroke="#8c8c8c" stroke-width="1"/>
<line x1="527.1" y1="176.8" x2="527.1" y2="173.3" stroke="#8c8c8c" stroke-width="1"/>
<line x1="557.5" y1="176.8" x2="557.5" y2="173.3" stroke="#8c8c8c" stroke-width="1"/>
<line x1="587.8" y1="176.8" x2="587.8" y2="173.3" stroke="#8c8c8c" stroke-width="1"/>
<line x1="618.1" y1="176.8" x2="618.1" y2="173.3" stroke="#8c8c8c" stroke-width="1"/>
<line x1="648.4" y1="176.8" x2="648.4" y2="173.3" stroke="#8c8c8c" stroke-width="1"/>
<text x="373" y="24.6" text-anchor="end" class="tk">1,0</text>
<text x="373" y="102.2" text-anchor="end" class="tk">0,5</text>
<text x="373" y="179.9" text-anchor="end" class="tk">0,0</text>
<text x="436.6" y="186.6" text-anchor="middle" class="tk">0,5</text>
<text x="497.3" y="186.6" text-anchor="middle" class="tk">1,0</text>
<text x="558.0" y="186.6" text-anchor="middle" class="tk">1,5</text>
<text x="618.6" y="186.6" text-anchor="middle" class="tk">2,0</text>
<text transform="translate(360.3,92.9) rotate(-90)" text-anchor="middle" class="at">intensity (a.u.)</text>
<line x1="596" y1="29.9" x2="617" y2="29.9" stroke="#232878" stroke-width="2.4"/>
<line x1="596" y1="43.1" x2="617" y2="43.1" stroke="#c41a28" stroke-width="2.4"/>
<text x="625" y="33.5" class="lg">original</text>
<text x="625" y="47.1" class="lg">IWS</text>
<text x="385" y="24.8" class="cl">c</text>
<polyline points="375.0,322.6 379.6,314.5 385.4,298.3 391.2,275.2 398.1,242.8 405.1,220.9 412.0,210.9 417.8,210.0 423.6,208.1 430.5,203.0 436.3,200.7 442.1,203.0 447.9,204.0 454.8,208.1 460.6,207.2 466.4,196.6 472.2,196.6 477.9,210.4 483.7,229.0 489.5,254.4 496.4,279.8 502.2,284.5 509.2,290.2 516.1,305.3 521.9,316.9 527.3,325.0 533.1,327.3 538.9,316.9 544.7,309.9 550.9,308.1 556.2,315.7 563.2,331.2 569.0,333.5 575.9,318.0 581.7,293.7 587.5,269.4 593.7,259.5 599.5,266.0 606.0,282.2 611.7,282.9 618.0,264.8 624.5,233.6 630.2,202.3 636.0,193.1 641.8,205.8 647.6,233.6 652.2,268.3 656.9,303.0 661.5,336.5 666.6,346.9" fill="none" stroke="#262a80" stroke-width="1.3" stroke-linejoin="round"/>
<polyline points="375.0,312.2 379.6,314.5 386.6,304.1 392.3,282.2 398.1,254.4 405.1,232.4 411.5,230.1 417.8,245.1 423.6,263.6 430.5,268.7 436.3,272.9 442.1,281.0 447.9,278.7 453.6,291.9 460.6,294.2 466.4,267.1 472.2,261.3 477.9,272.4 483.7,287.9 490.2,309.9 496.4,323.8 502.2,311.1 508.7,299.0 515.0,301.8 520.7,306.4 525.0,316.9 527.3,321.5 533.1,321.5 538.9,303.0 544.7,283.3 550.9,281.0 557.4,301.8 563.2,326.1 569.4,346.9 575.4,348.1 581.7,319.2 587.5,290.3 593.7,270.6 599.5,276.4 606.0,311.1 612.0,334.2 618.0,325.0 624.5,277.5 630.2,226.6 636.0,193.1 642.5,196.6 647.6,226.6 653.4,275.2 658.0,314.5 661.5,346.9" fill="none" stroke="#cc2230" stroke-width="1.3" stroke-linejoin="round"/>
<line x1="375.2" y1="348.2" x2="679.0" y2="348.2" stroke="#8c8c8c" stroke-width="1.5"/>
<line x1="375.2" y1="309.3" x2="378.2" y2="309.3" stroke="#8c8c8c" stroke-width="1.1"/>
<line x1="676.0" y1="309.3" x2="679.0" y2="309.3" stroke="#8c8c8c" stroke-width="1"/>
<line x1="375.2" y1="270.4" x2="379.7" y2="270.4" stroke="#8c8c8c" stroke-width="1.1"/>
<line x1="676.0" y1="270.4" x2="679.0" y2="270.4" stroke="#8c8c8c" stroke-width="1"/>
<line x1="375.2" y1="231.6" x2="378.2" y2="231.6" stroke="#8c8c8c" stroke-width="1.1"/>
<line x1="676.0" y1="231.6" x2="679.0" y2="231.6" stroke="#8c8c8c" stroke-width="1"/>
<line x1="375.2" y1="192.7" x2="379.7" y2="192.7" stroke="#8c8c8c" stroke-width="1.1"/>
<line x1="676.0" y1="192.7" x2="679.0" y2="192.7" stroke="#8c8c8c" stroke-width="1"/>
<line x1="405.8" y1="348.2" x2="405.8" y2="344.7" stroke="#8c8c8c" stroke-width="1"/>
<line x1="436.1" y1="348.2" x2="436.1" y2="344.7" stroke="#8c8c8c" stroke-width="1"/>
<line x1="466.5" y1="348.2" x2="466.5" y2="344.7" stroke="#8c8c8c" stroke-width="1"/>
<line x1="496.8" y1="348.2" x2="496.8" y2="344.7" stroke="#8c8c8c" stroke-width="1"/>
<line x1="527.1" y1="348.2" x2="527.1" y2="344.7" stroke="#8c8c8c" stroke-width="1"/>
<line x1="557.5" y1="348.2" x2="557.5" y2="344.7" stroke="#8c8c8c" stroke-width="1"/>
<line x1="587.8" y1="348.2" x2="587.8" y2="344.7" stroke="#8c8c8c" stroke-width="1"/>
<line x1="618.1" y1="348.2" x2="618.1" y2="344.7" stroke="#8c8c8c" stroke-width="1"/>
<line x1="648.4" y1="348.2" x2="648.4" y2="344.7" stroke="#8c8c8c" stroke-width="1"/>
<text x="373" y="195.8" text-anchor="end" class="tk">1,0</text>
<text x="373" y="273.6" text-anchor="end" class="tk">0,5</text>
<text x="373" y="351.3" text-anchor="end" class="tk">0,0</text>
<text x="436.6" y="358.0" text-anchor="middle" class="tk">0,5</text>
<text x="497.3" y="358.0" text-anchor="middle" class="tk">1,0</text>
<text x="558.0" y="358.0" text-anchor="middle" class="tk">1,5</text>
<text x="618.6" y="358.0" text-anchor="middle" class="tk">2,0</text>
<text transform="translate(360.3,264.1) rotate(-90)" text-anchor="middle" class="at">intensity (a.u.)</text>
<line x1="383" y1="323.8" x2="404" y2="323.8" stroke="#232878" stroke-width="2.4"/>
<line x1="383" y1="336.5" x2="404" y2="336.5" stroke="#c41a28" stroke-width="2.4"/>
<text x="412" y="327.4" class="lg">original</text>
<text x="412" y="340.5" class="lg">IWS</text>
<text x="384.5" y="204.7" class="cl">f</text>
<polyline points="375.0,506.5 378.5,505.4 384.3,497.3 390.0,477.6 395.8,459.1 402.8,445.2 408.5,440.6 414.8,433.2 420.1,451.0 427.0,457.9 432.8,463.7 439.3,468.8 444.4,468.8 450.2,462.6 456.0,465.6 462.4,475.3 468.7,485.0 474.9,486.9 481.4,482.7 487.2,474.6 493.4,475.8 499.2,470.7 504.5,460.3 511.5,447.5 517.3,426.7 523.5,412.8 529.2,411.0 535.4,423.2 541.7,432.0 547.7,430.6 553.9,433.0 559.7,432.0 565.9,413.5 572.0,428.3 578.2,430.6 584.0,433.6 590.2,438.3 596.7,426.7 602.5,415.6 607.8,402.0 613.6,402.9 619.8,396.6 625.6,396.6 631.9,389.2 638.3,380.9 644.1,373.5 650.6,363.6 656.4,366.1 662.6,382.1 668.4,385.1 674.2,399.0 679.0,413.0" fill="none" stroke="#262a80" stroke-width="2.0" stroke-linejoin="round"/>
<polyline points="375.0,519.2 378.5,514.6 384.3,507.7 390.0,479.9 397.0,454.5 402.8,438.3 409.2,427.9 414.8,421.4 420.1,459.1 427.0,479.5 432.8,481.5 439.3,483.8 444.4,479.9 450.2,463.0 457.1,462.1 462.9,497.3 469.8,501.9 474.9,501.2 481.4,495.4 487.2,480.6 493.4,491.9 499.2,493.3 505.7,469.5 511.5,451.0 517.3,414.0 523.5,407.0 529.2,416.3 535.4,447.5 541.7,466.0 547.7,456.8 553.9,454.0 559.7,450.3 565.9,422.1 572.0,439.4 578.2,449.8 584.0,454.0 590.2,463.0 596.7,448.7 602.5,430.2 607.8,406.4 613.6,416.3 619.8,407.0 625.6,419.8 631.9,403.6 638.3,389.2 644.1,380.0 650.6,363.6 656.4,372.3 662.6,397.8 668.4,394.3 674.2,408.2 679.0,422.0" fill="none" stroke="#cc2230" stroke-width="2.0" stroke-linejoin="round"/>
<line x1="375.2" y1="518.7" x2="679.0" y2="518.7" stroke="#8c8c8c" stroke-width="1.5"/>
<line x1="375.2" y1="479.9" x2="378.2" y2="479.9" stroke="#8c8c8c" stroke-width="1.1"/>
<line x1="676.0" y1="479.9" x2="679.0" y2="479.9" stroke="#8c8c8c" stroke-width="1"/>
<line x1="375.2" y1="441.1" x2="379.7" y2="441.1" stroke="#8c8c8c" stroke-width="1.1"/>
<line x1="676.0" y1="441.1" x2="679.0" y2="441.1" stroke="#8c8c8c" stroke-width="1"/>
<line x1="375.2" y1="402.2" x2="378.2" y2="402.2" stroke="#8c8c8c" stroke-width="1.1"/>
<line x1="676.0" y1="402.2" x2="679.0" y2="402.2" stroke="#8c8c8c" stroke-width="1"/>
<line x1="375.2" y1="363.4" x2="379.7" y2="363.4" stroke="#8c8c8c" stroke-width="1.1"/>
<line x1="676.0" y1="363.4" x2="679.0" y2="363.4" stroke="#8c8c8c" stroke-width="1"/>
<line x1="405.8" y1="518.7" x2="405.8" y2="515.2" stroke="#8c8c8c" stroke-width="1"/>
<line x1="436.1" y1="518.7" x2="436.1" y2="515.2" stroke="#8c8c8c" stroke-width="1"/>
<line x1="466.5" y1="518.7" x2="466.5" y2="515.2" stroke="#8c8c8c" stroke-width="1"/>
<line x1="496.8" y1="518.7" x2="496.8" y2="515.2" stroke="#8c8c8c" stroke-width="1"/>
<line x1="527.1" y1="518.7" x2="527.1" y2="515.2" stroke="#8c8c8c" stroke-width="1"/>
<line x1="557.5" y1="518.7" x2="557.5" y2="515.2" stroke="#8c8c8c" stroke-width="1"/>
<line x1="587.8" y1="518.7" x2="587.8" y2="515.2" stroke="#8c8c8c" stroke-width="1"/>
<line x1="618.1" y1="518.7" x2="618.1" y2="515.2" stroke="#8c8c8c" stroke-width="1"/>
<line x1="648.4" y1="518.7" x2="648.4" y2="515.2" stroke="#8c8c8c" stroke-width="1"/>
<text x="373" y="366.5" text-anchor="end" class="tk">1,0</text>
<text x="373" y="444.2" text-anchor="end" class="tk">0,5</text>
<text x="373" y="521.8" text-anchor="end" class="tk">0,0</text>
<text x="436.6" y="528.5" text-anchor="middle" class="tk">0,5</text>
<text x="497.3" y="528.5" text-anchor="middle" class="tk">1,0</text>
<text x="558.0" y="528.5" text-anchor="middle" class="tk">1,5</text>
<text x="618.6" y="528.5" text-anchor="middle" class="tk">2,0</text>
<text transform="translate(360.3,434.8) rotate(-90)" text-anchor="middle" class="at">intensity (a.u.)</text>
<line x1="594" y1="487.3" x2="614" y2="487.3" stroke="#232878" stroke-width="2.4"/>
<line x1="594" y1="500.3" x2="614" y2="500.3" stroke="#c41a28" stroke-width="2.4"/>
<text x="622" y="490.9" class="lg">original</text>
<text x="622" y="504.3" class="lg">IWS</text>
<text x="382.5" y="376.6" class="cl">i</text>
<polyline points="375.0,614.1 380.8,629.1 387.0,644.1 393.5,652.7 400.0,658.7 406.2,663.8 412.0,664.7 417.8,659.2 423.6,649.9 430.1,638.3 436.3,632.6 442.5,630.7 449.0,629.8 454.8,628.2 460.6,626.8 466.6,625.4 472.2,633.7 477.9,645.3 483.7,658.0 490.7,667.3 496.4,672.1 502.2,668.9 508.0,660.3 513.8,649.9 520.7,631.4 525.2,613.0 529.6,594.4 535.4,575.9 540.7,562.0 545.8,548.1 551.6,537.7 557.4,538.9 563.2,552.8 569.4,566.6 575.4,584.0 581.7,594.4 587.9,595.1 593.9,592.8 600.2,590.7 606.4,590.5 612.9,596.7 618.7,609.4 624.5,621.7 630.9,633.7 637.2,639.5 643.0,639.0 649.5,643.0 655.7,651.8 661.5,661.5 667.3,670.7 673.0,676.5 679.0,678.6" fill="none" stroke="#262a80" stroke-width="2.0" stroke-linejoin="round"/>
<polyline points="375.0,612.9 380.8,625.6 387.0,640.0 393.5,646.4 400.0,651.1 406.2,659.6 412.0,661.5 417.8,653.4 423.6,638.3 430.1,619.8 436.3,612.9 442.5,617.5 449.0,624.5 454.8,627.9 460.6,621.0 466.6,610.6 472.2,612.2 477.9,623.3 483.7,641.8 490.7,659.2 496.4,673.0 502.2,674.2 508.0,666.1 513.8,655.7 520.7,639.5 525.2,624.0 529.6,606.0 535.4,587.5 540.7,574.7 545.8,557.4 551.6,540.0 557.4,537.7 563.2,550.4 569.4,571.3 575.4,593.2 581.7,603.6 587.9,597.9 593.9,584.0 600.2,578.2 606.4,575.9 612.9,581.7 618.7,601.3 624.5,618.7 630.9,632.6 637.2,639.0 643.0,633.7 649.5,634.9 655.7,647.6 661.5,659.2 667.3,673.0 673.0,680.4 679.0,680.6" fill="none" stroke="#cc2230" stroke-width="2.0" stroke-linejoin="round"/>
<line x1="375.2" y1="690.3" x2="679.0" y2="690.3" stroke="#8c8c8c" stroke-width="1.5"/>
<line x1="375.2" y1="651.4" x2="378.2" y2="651.4" stroke="#8c8c8c" stroke-width="1.1"/>
<line x1="676.0" y1="651.4" x2="679.0" y2="651.4" stroke="#8c8c8c" stroke-width="1"/>
<line x1="375.2" y1="612.5" x2="379.7" y2="612.5" stroke="#8c8c8c" stroke-width="1.1"/>
<line x1="676.0" y1="612.5" x2="679.0" y2="612.5" stroke="#8c8c8c" stroke-width="1"/>
<line x1="375.2" y1="573.6" x2="378.2" y2="573.6" stroke="#8c8c8c" stroke-width="1.1"/>
<line x1="676.0" y1="573.6" x2="679.0" y2="573.6" stroke="#8c8c8c" stroke-width="1"/>
<line x1="375.2" y1="534.7" x2="379.7" y2="534.7" stroke="#8c8c8c" stroke-width="1.1"/>
<line x1="676.0" y1="534.7" x2="679.0" y2="534.7" stroke="#8c8c8c" stroke-width="1"/>
<line x1="405.8" y1="690.3" x2="405.8" y2="686.8" stroke="#8c8c8c" stroke-width="1"/>
<line x1="436.1" y1="690.3" x2="436.1" y2="686.8" stroke="#8c8c8c" stroke-width="1"/>
<line x1="466.5" y1="690.3" x2="466.5" y2="686.8" stroke="#8c8c8c" stroke-width="1"/>
<line x1="496.8" y1="690.3" x2="496.8" y2="686.8" stroke="#8c8c8c" stroke-width="1"/>
<line x1="527.1" y1="690.3" x2="527.1" y2="686.8" stroke="#8c8c8c" stroke-width="1"/>
<line x1="557.5" y1="690.3" x2="557.5" y2="686.8" stroke="#8c8c8c" stroke-width="1"/>
<line x1="587.8" y1="690.3" x2="587.8" y2="686.8" stroke="#8c8c8c" stroke-width="1"/>
<line x1="618.1" y1="690.3" x2="618.1" y2="686.8" stroke="#8c8c8c" stroke-width="1"/>
<line x1="648.4" y1="690.3" x2="648.4" y2="686.8" stroke="#8c8c8c" stroke-width="1"/>
<text x="373" y="537.8" text-anchor="end" class="tk">1,0</text>
<text x="373" y="615.6" text-anchor="end" class="tk">0,5</text>
<text x="377.0" y="701.6" text-anchor="middle" class="tk">0</text>
<text x="437.6" y="701.6" text-anchor="middle" class="tk">0,5</text>
<text x="498.3" y="701.6" text-anchor="middle" class="tk">1,0</text>
<text x="559.0" y="701.6" text-anchor="middle" class="tk">1,5</text>
<text x="619.6" y="701.6" text-anchor="middle" class="tk">2,0</text>
<text x="680.2" y="701.6" text-anchor="middle" class="tk">2,5</text>
<text transform="translate(360.3,606.2) rotate(-90)" text-anchor="middle" class="at">intensity (a.u.)</text>
<line x1="593" y1="547.8" x2="614" y2="547.8" stroke="#232878" stroke-width="2.4"/>
<line x1="593" y1="560.6" x2="614" y2="560.6" stroke="#c41a28" stroke-width="2.4"/>
<text x="622" y="551.4" class="lg">original</text>
<text x="622" y="564.6" class="lg">IWS</text>
<text x="385" y="548.3" class="cl">l</text>
<text x="533" y="711" text-anchor="middle" class="at">distance (µm)</text>
</svg>
</body></html>
